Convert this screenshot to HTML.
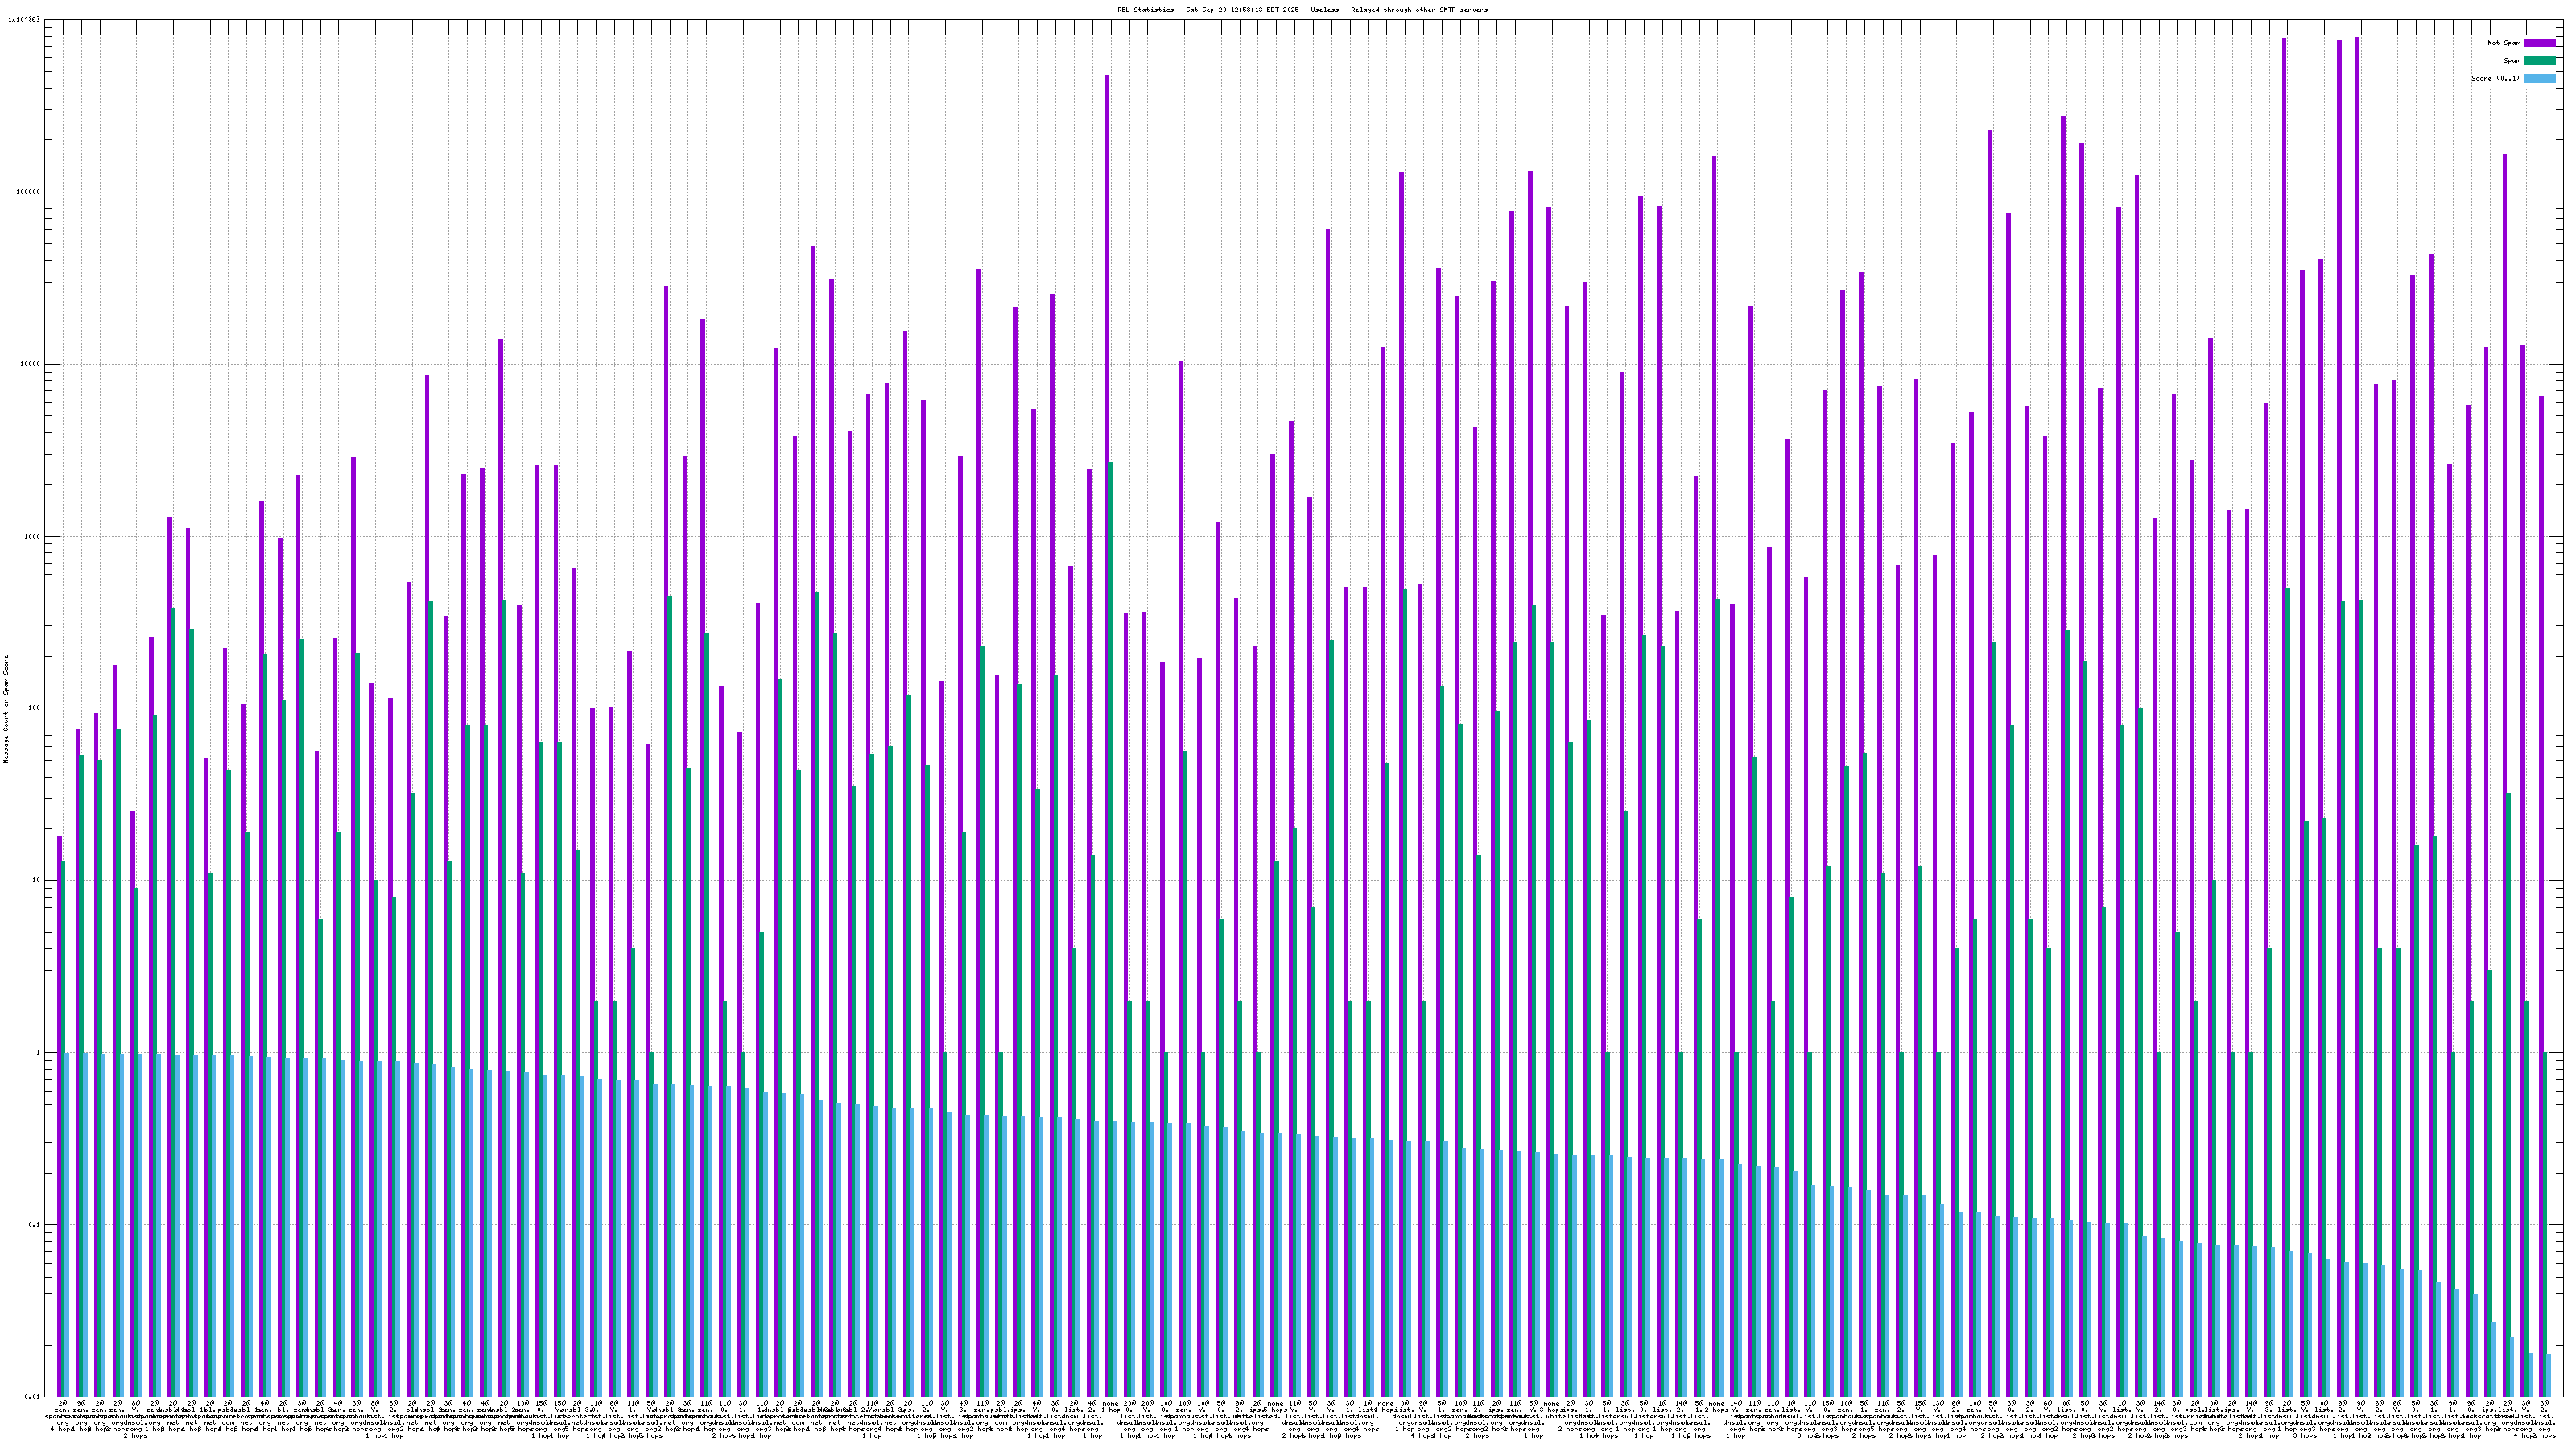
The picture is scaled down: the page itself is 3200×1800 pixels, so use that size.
<!DOCTYPE html>
<html lang="en"><head><meta charset="utf-8"><title>RBL Statistics</title>
<style>html,body{margin:0;padding:0;overflow:hidden;background:#fff;font-family:"Liberation Sans",sans-serif}svg{display:block}</style></head>
<body><svg width="3200" height="1800" viewBox="0 0 3200 1800" shape-rendering="crispEdges" role="img">
<title>RBL Statistics - Sat Sep 20 12:58:13 EDT 2025 - Useless - Relayed through other SMTP servers</title>
<desc>Clustered log-scale histogram. Y axis: Message Count or Spam Score (0.01 to 1x10^{6}). Series: Not Spam, Spam, Score (0..1). 136 RBL / hop-count groups on the X axis.</desc>
<defs><g id="gl" fill="#000"><path id="c40" d="M2 1h1v1h-1zM1 2h1v1h-1zM1 3h1v1h-1zM1 4h1v1h-1zM2 5h1v1h-1z"/><path id="c41" d="M1 1h1v1h-1zM2 2h1v1h-1zM2 3h1v1h-1zM2 4h1v1h-1zM1 5h1v1h-1z"/><path id="c45" d="M0 4h4v1h-4z"/><path id="c46" d="M1 5h2v1h-2zM1 6h2v1h-2z"/><path id="c48" d="M2 1h1v1h-1zM1 2h1v1h-1zM3 2h1v1h-1zM1 3h1v1h-1zM3 3h1v1h-1zM1 4h1v1h-1zM3 4h1v1h-1zM1 5h1v1h-1zM3 5h1v1h-1zM2 6h1v1h-1z"/><path id="c49" d="M2 1h1v1h-1zM1 2h2v1h-2zM2 3h1v1h-1zM2 4h1v1h-1zM2 5h1v1h-1zM1 6h3v1h-3z"/><path id="c50" d="M1 1h2v1h-2zM0 2h1v1h-1zM3 2h1v1h-1zM3 3h1v1h-1zM2 4h1v1h-1zM1 5h1v1h-1zM0 6h4v1h-4z"/><path id="c51" d="M1 1h2v1h-2zM0 2h1v1h-1zM3 2h1v1h-1zM2 3h1v1h-1zM3 4h1v1h-1zM0 5h1v1h-1zM3 5h1v1h-1zM1 6h2v1h-2z"/><path id="c52" d="M2 1h1v1h-1zM1 2h2v1h-2zM0 3h1v1h-1zM2 3h1v1h-1zM0 4h4v1h-4zM2 5h1v1h-1zM2 6h1v1h-1z"/><path id="c53" d="M0 1h4v1h-4zM0 2h1v1h-1zM0 3h3v1h-3zM3 4h1v1h-1zM0 5h1v1h-1zM3 5h1v1h-1zM1 6h2v1h-2z"/><path id="c54" d="M1 1h2v1h-2zM0 2h1v1h-1zM0 3h1v1h-1zM2 3h1v1h-1zM0 4h2v1h-2zM3 4h1v1h-1zM0 5h1v1h-1zM3 5h1v1h-1zM1 6h2v1h-2z"/><path id="c56" d="M1 1h2v1h-2zM0 2h1v1h-1zM3 2h1v1h-1zM1 3h2v1h-2zM0 4h1v1h-1zM3 4h1v1h-1zM0 5h1v1h-1zM3 5h1v1h-1zM1 6h2v1h-2z"/><path id="c57" d="M1 1h2v1h-2zM0 2h1v1h-1zM3 2h1v1h-1zM0 3h1v1h-1zM2 3h2v1h-2zM1 4h1v1h-1zM3 4h1v1h-1zM3 5h1v1h-1zM1 6h2v1h-2z"/><path id="c58" d="M1 2h2v1h-2zM1 3h2v1h-2zM1 5h2v1h-2zM1 6h2v1h-2z"/><path id="c64" d="M2 0h2v1h-2zM1 1h1v1h-1zM4 1h1v1h-1zM0 2h1v1h-1zM3 2h2v1h-2zM0 3h1v1h-1zM2 3h1v1h-1zM4 3h1v1h-1zM0 4h1v1h-1zM2 4h1v1h-1zM4 4h1v1h-1zM0 5h1v1h-1zM3 5h1v1h-1zM1 6h1v1h-1zM2 7h2v1h-2z"/><path id="c66" d="M0 1h3v1h-3zM0 2h1v1h-1zM3 2h1v1h-1zM0 3h3v1h-3zM0 4h1v1h-1zM3 4h1v1h-1zM0 5h1v1h-1zM3 5h1v1h-1zM0 6h3v1h-3z"/><path id="c67" d="M1 1h2v1h-2zM0 2h1v1h-1zM3 2h1v1h-1zM0 3h1v1h-1zM0 4h1v1h-1zM0 5h1v1h-1zM3 5h1v1h-1zM1 6h2v1h-2z"/><path id="c68" d="M0 1h3v1h-3zM0 2h1v1h-1zM3 2h1v1h-1zM0 3h1v1h-1zM3 3h1v1h-1zM0 4h1v1h-1zM3 4h1v1h-1zM0 5h1v1h-1zM3 5h1v1h-1zM0 6h3v1h-3z"/><path id="c69" d="M0 1h4v1h-4zM0 2h1v1h-1zM0 3h3v1h-3zM0 4h1v1h-1zM0 5h1v1h-1zM0 6h4v1h-4z"/><path id="c76" d="M0 1h1v1h-1zM0 2h1v1h-1zM0 3h1v1h-1zM0 4h1v1h-1zM0 5h1v1h-1zM0 6h4v1h-4z"/><path id="c77" d="M0 1h1v1h-1zM3 1h1v1h-1zM0 2h4v1h-4zM0 3h4v1h-4zM0 4h1v1h-1zM3 4h1v1h-1zM0 5h1v1h-1zM3 5h1v1h-1zM0 6h1v1h-1zM3 6h1v1h-1z"/><path id="c78" d="M0 1h1v1h-1zM3 1h1v1h-1zM0 2h2v1h-2zM3 2h1v1h-1zM0 3h4v1h-4zM0 4h1v1h-1zM2 4h2v1h-2zM0 5h1v1h-1zM2 5h2v1h-2zM0 6h1v1h-1zM3 6h1v1h-1z"/><path id="c80" d="M0 1h3v1h-3zM0 2h1v1h-1zM3 2h1v1h-1zM0 3h1v1h-1zM3 3h1v1h-1zM0 4h3v1h-3zM0 5h1v1h-1zM0 6h1v1h-1z"/><path id="c82" d="M0 1h3v1h-3zM0 2h1v1h-1zM3 2h1v1h-1zM0 3h1v1h-1zM3 3h1v1h-1zM0 4h3v1h-3zM0 5h1v1h-1zM2 5h1v1h-1zM0 6h1v1h-1zM3 6h1v1h-1z"/><path id="c83" d="M1 1h3v1h-3zM0 2h1v1h-1zM0 3h1v1h-1zM1 4h2v1h-2zM3 5h1v1h-1zM0 6h3v1h-3z"/><path id="c84" d="M0 1h5v1h-5zM2 2h1v1h-1zM2 3h1v1h-1zM2 4h1v1h-1zM2 5h1v1h-1zM2 6h1v1h-1z"/><path id="c85" d="M0 1h1v1h-1zM3 1h1v1h-1zM0 2h1v1h-1zM3 2h1v1h-1zM0 3h1v1h-1zM3 3h1v1h-1zM0 4h1v1h-1zM3 4h1v1h-1zM0 5h1v1h-1zM3 5h1v1h-1zM1 6h2v1h-2z"/><path id="c89" d="M0 1h1v1h-1zM4 1h1v1h-1zM0 2h1v1h-1zM4 2h1v1h-1zM1 3h1v1h-1zM3 3h1v1h-1zM2 4h1v1h-1zM2 5h1v1h-1zM2 6h1v1h-1z"/><path id="c94" d="M2 1h1v1h-1zM1 2h1v1h-1zM3 2h1v1h-1z"/><path id="c97" d="M1 3h3v1h-3zM0 4h1v1h-1zM3 4h1v1h-1zM0 5h1v1h-1zM2 5h2v1h-2zM1 6h1v1h-1zM3 6h1v1h-1z"/><path id="c98" d="M0 1h1v1h-1zM0 2h1v1h-1zM0 3h3v1h-3zM0 4h1v1h-1zM3 4h1v1h-1zM0 5h1v1h-1zM3 5h1v1h-1zM0 6h3v1h-3z"/><path id="c99" d="M1 3h3v1h-3zM0 4h1v1h-1zM0 5h1v1h-1zM1 6h3v1h-3z"/><path id="c100" d="M3 1h1v1h-1zM3 2h1v1h-1zM1 3h3v1h-3zM0 4h1v1h-1zM3 4h1v1h-1zM0 5h1v1h-1zM2 5h2v1h-2zM1 6h1v1h-1zM3 6h1v1h-1z"/><path id="c101" d="M1 3h2v1h-2zM0 4h1v1h-1zM2 4h2v1h-2zM0 5h2v1h-2zM1 6h3v1h-3z"/><path id="c103" d="M1 3h3v1h-3zM0 4h1v1h-1zM3 4h1v1h-1zM1 5h3v1h-3zM3 6h1v1h-1zM1 7h2v1h-2z"/><path id="c104" d="M0 1h1v1h-1zM0 2h1v1h-1zM0 3h3v1h-3zM0 4h1v1h-1zM3 4h1v1h-1zM0 5h1v1h-1zM3 5h1v1h-1zM0 6h1v1h-1zM3 6h1v1h-1z"/><path id="c105" d="M2 1h1v1h-1zM1 3h2v1h-2zM2 4h1v1h-1zM2 5h1v1h-1zM1 6h3v1h-3z"/><path id="c107" d="M0 1h1v1h-1zM0 2h1v1h-1zM0 3h1v1h-1zM3 3h1v1h-1zM0 4h3v1h-3zM0 5h1v1h-1zM3 5h1v1h-1zM0 6h1v1h-1zM3 6h1v1h-1z"/><path id="c108" d="M1 1h2v1h-2zM2 2h1v1h-1zM2 3h1v1h-1zM2 4h1v1h-1zM2 5h1v1h-1zM1 6h3v1h-3z"/><path id="c109" d="M0 3h2v1h-2zM3 3h1v1h-1zM0 4h1v1h-1zM2 4h1v1h-1zM4 4h1v1h-1zM0 5h1v1h-1zM2 5h1v1h-1zM4 5h1v1h-1zM0 6h1v1h-1zM4 6h1v1h-1z"/><path id="c110" d="M0 3h1v1h-1zM2 3h1v1h-1zM0 4h2v1h-2zM3 4h1v1h-1zM0 5h1v1h-1zM3 5h1v1h-1zM0 6h1v1h-1zM3 6h1v1h-1z"/><path id="c111" d="M1 3h2v1h-2zM0 4h1v1h-1zM3 4h1v1h-1zM0 5h1v1h-1zM3 5h1v1h-1zM1 6h2v1h-2z"/><path id="c112" d="M0 3h3v1h-3zM0 4h1v1h-1zM3 4h1v1h-1zM0 5h3v1h-3zM0 6h1v1h-1zM0 7h1v1h-1z"/><path id="c114" d="M0 3h1v1h-1zM2 3h1v1h-1zM0 4h2v1h-2zM3 4h1v1h-1zM0 5h1v1h-1zM0 6h1v1h-1z"/><path id="c115" d="M1 3h3v1h-3zM0 4h2v1h-2zM2 5h2v1h-2zM0 6h3v1h-3z"/><path id="c116" d="M1 1h1v1h-1zM1 2h1v1h-1zM0 3h3v1h-3zM1 4h1v1h-1zM1 5h1v1h-1zM3 5h1v1h-1zM2 6h1v1h-1z"/><path id="c117" d="M0 3h1v1h-1zM3 3h1v1h-1zM0 4h1v1h-1zM3 4h1v1h-1zM0 5h1v1h-1zM2 5h2v1h-2zM1 6h1v1h-1zM3 6h1v1h-1z"/><path id="c118" d="M1 3h1v1h-1zM3 3h1v1h-1zM1 4h1v1h-1zM3 4h1v1h-1zM1 5h1v1h-1zM3 5h1v1h-1zM2 6h1v1h-1z"/><path id="c119" d="M0 3h1v1h-1zM4 3h1v1h-1zM0 4h1v1h-1zM2 4h1v1h-1zM4 4h1v1h-1zM0 5h1v1h-1zM2 5h1v1h-1zM4 5h1v1h-1zM1 6h3v1h-3z"/><path id="c120" d="M0 3h1v1h-1zM3 3h1v1h-1zM1 4h2v1h-2zM1 5h2v1h-2zM0 6h1v1h-1zM3 6h1v1h-1z"/><path id="c121" d="M0 3h1v1h-1zM3 3h1v1h-1zM0 4h1v1h-1zM3 4h1v1h-1zM1 5h3v1h-3zM3 6h1v1h-1zM1 7h2v1h-2z"/><path id="c122" d="M0 3h4v1h-4zM2 4h1v1h-1zM1 5h1v1h-1zM0 6h4v1h-4z"/><path id="c123" d="M2 0h2v1h-2zM1 1h1v1h-1zM2 2h1v1h-1zM0 3h2v1h-2zM2 4h1v1h-1zM1 5h1v1h-1zM2 6h2v1h-2z"/><path id="c125" d="M1 0h2v1h-2zM3 1h1v1h-1zM2 2h1v1h-1zM3 3h2v1h-2zM2 4h1v1h-1zM3 5h1v1h-1zM1 6h2v1h-2z"/></g></defs>
<path d="M78.5 26V1735M101.5 26V1735M124.5 26V1735M146.5 26V1735M169.5 26V1735M192.5 26V1735M215.5 26V1735M238.5 26V1735M261.5 26V1735M283.5 26V1735M306.5 26V1735M329.5 26V1735M352.5 26V1735M375.5 26V1735M398.5 26V1735M420.5 26V1735M443.5 26V1735M466.5 26V1735M489.5 26V1735M512.5 26V1735M535.5 26V1735M557.5 26V1735M580.5 26V1735M603.5 26V1735M626.5 26V1735M649.5 26V1735M672.5 26V1735M695.5 26V1735M717.5 26V1735M740.5 26V1735M763.5 26V1735M786.5 26V1735M809.5 26V1735M832.5 26V1735M854.5 26V1735M877.5 26V1735M900.5 26V1735M923.5 26V1735M946.5 26V1735M969.5 26V1735M991.5 26V1735M1014.5 26V1735M1037.5 26V1735M1060.5 26V1735M1083.5 26V1735M1106.5 26V1735M1128.5 26V1735M1151.5 26V1735M1174.5 26V1735M1197.5 26V1735M1220.5 26V1735M1243.5 26V1735M1265.5 26V1735M1288.5 26V1735M1311.5 26V1735M1334.5 26V1735M1357.5 26V1735M1380.5 26V1735M1403.5 26V1735M1425.5 26V1735M1448.5 26V1735M1471.5 26V1735M1494.5 26V1735M1517.5 26V1735M1540.5 26V1735M1562.5 26V1735M1585.5 26V1735M1608.5 26V1735M1631.5 26V1735M1654.5 26V1735M1677.5 26V1735M1699.5 26V1735M1722.5 26V1735M1745.5 26V1735M1768.5 26V1735M1791.5 26V1735M1814.5 26V1735M1836.5 26V1735M1859.5 26V1735M1882.5 26V1735M1905.5 26V1735M1928.5 26V1735M1951.5 26V1735M1974.5 26V1735M1996.5 26V1735M2019.5 26V1735M2042.5 26V1735M2065.5 26V1735M2088.5 26V1735M2111.5 26V1735M2133.5 26V1735M2156.5 26V1735M2179.5 26V1735M2202.5 26V1735M2225.5 26V1735M2248.5 26V1735M2270.5 26V1735M2293.5 26V1735M2316.5 26V1735M2339.5 26V1735M2362.5 26V1735M2385.5 26V1735M2407.5 26V1735M2430.5 26V1735M2453.5 26V1735M2476.5 26V1735M2499.5 26V1735M2522.5 26V1735M2544.5 26V1735M2567.5 26V1735M2590.5 26V1735M2613.5 26V1735M2636.5 26V1735M2659.5 26V1735M2682.5 26V1735M2704.5 26V1735M2727.5 26V1735M2750.5 26V1735M2773.5 26V1735M2796.5 26V1735M2819.5 26V1735M2841.5 26V1735M2864.5 26V1735M2887.5 26V1735M2910.5 26V1735M2933.5 26V1735M2956.5 26V1735M2978.5 26V1735M3001.5 26V1735M3024.5 26V1735M3047.5 26V1735M3070.5 26V1735M3093.5 26V1735M3115.5 26V1735M3138.5 26V1735M3161.5 26V1735" stroke="#a0a0a0" stroke-width="1" stroke-dasharray="2 2" fill="none"/>
<path d="M56 238.5H3184M56 452.5H3184M56 666.5H3184M56 879.5H3184M56 1093.5H3184M56 1307.5H3184M56 1521.5H3184" stroke="#a0a0a0" stroke-width="1" stroke-dasharray="2 2" stroke-dashoffset="1" fill="none"/>
<rect x="3071" y="43" width="113" height="67" fill="#fff"/>
<path d="M78.5 25V43M78.5 1717V1735M101.5 25V43M101.5 1717V1735M124.5 25V43M124.5 1717V1735M146.5 25V43M146.5 1717V1735M169.5 25V43M169.5 1717V1735M192.5 25V43M192.5 1717V1735M215.5 25V43M215.5 1717V1735M238.5 25V43M238.5 1717V1735M261.5 25V43M261.5 1717V1735M283.5 25V43M283.5 1717V1735M306.5 25V43M306.5 1717V1735M329.5 25V43M329.5 1717V1735M352.5 25V43M352.5 1717V1735M375.5 25V43M375.5 1717V1735M398.5 25V43M398.5 1717V1735M420.5 25V43M420.5 1717V1735M443.5 25V43M443.5 1717V1735M466.5 25V43M466.5 1717V1735M489.5 25V43M489.5 1717V1735M512.5 25V43M512.5 1717V1735M535.5 25V43M535.5 1717V1735M557.5 25V43M557.5 1717V1735M580.5 25V43M580.5 1717V1735M603.5 25V43M603.5 1717V1735M626.5 25V43M626.5 1717V1735M649.5 25V43M649.5 1717V1735M672.5 25V43M672.5 1717V1735M695.5 25V43M695.5 1717V1735M717.5 25V43M717.5 1717V1735M740.5 25V43M740.5 1717V1735M763.5 25V43M763.5 1717V1735M786.5 25V43M786.5 1717V1735M809.5 25V43M809.5 1717V1735M832.5 25V43M832.5 1717V1735M854.5 25V43M854.5 1717V1735M877.5 25V43M877.5 1717V1735M900.5 25V43M900.5 1717V1735M923.5 25V43M923.5 1717V1735M946.5 25V43M946.5 1717V1735M969.5 25V43M969.5 1717V1735M991.5 25V43M991.5 1717V1735M1014.5 25V43M1014.5 1717V1735M1037.5 25V43M1037.5 1717V1735M1060.5 25V43M1060.5 1717V1735M1083.5 25V43M1083.5 1717V1735M1106.5 25V43M1106.5 1717V1735M1128.5 25V43M1128.5 1717V1735M1151.5 25V43M1151.5 1717V1735M1174.5 25V43M1174.5 1717V1735M1197.5 25V43M1197.5 1717V1735M1220.5 25V43M1220.5 1717V1735M1243.5 25V43M1243.5 1717V1735M1265.5 25V43M1265.5 1717V1735M1288.5 25V43M1288.5 1717V1735M1311.5 25V43M1311.5 1717V1735M1334.5 25V43M1334.5 1717V1735M1357.5 25V43M1357.5 1717V1735M1380.5 25V43M1380.5 1717V1735M1403.5 25V43M1403.5 1717V1735M1425.5 25V43M1425.5 1717V1735M1448.5 25V43M1448.5 1717V1735M1471.5 25V43M1471.5 1717V1735M1494.5 25V43M1494.5 1717V1735M1517.5 25V43M1517.5 1717V1735M1540.5 25V43M1540.5 1717V1735M1562.5 25V43M1562.5 1717V1735M1585.5 25V43M1585.5 1717V1735M1608.5 25V43M1608.5 1717V1735M1631.5 25V43M1631.5 1717V1735M1654.5 25V43M1654.5 1717V1735M1677.5 25V43M1677.5 1717V1735M1699.5 25V43M1699.5 1717V1735M1722.5 25V43M1722.5 1717V1735M1745.5 25V43M1745.5 1717V1735M1768.5 25V43M1768.5 1717V1735M1791.5 25V43M1791.5 1717V1735M1814.5 25V43M1814.5 1717V1735M1836.5 25V43M1836.5 1717V1735M1859.5 25V43M1859.5 1717V1735M1882.5 25V43M1882.5 1717V1735M1905.5 25V43M1905.5 1717V1735M1928.5 25V43M1928.5 1717V1735M1951.5 25V43M1951.5 1717V1735M1974.5 25V43M1974.5 1717V1735M1996.5 25V43M1996.5 1717V1735M2019.5 25V43M2019.5 1717V1735M2042.5 25V43M2042.5 1717V1735M2065.5 25V43M2065.5 1717V1735M2088.5 25V43M2088.5 1717V1735M2111.5 25V43M2111.5 1717V1735M2133.5 25V43M2133.5 1717V1735M2156.5 25V43M2156.5 1717V1735M2179.5 25V43M2179.5 1717V1735M2202.5 25V43M2202.5 1717V1735M2225.5 25V43M2225.5 1717V1735M2248.5 25V43M2248.5 1717V1735M2270.5 25V43M2270.5 1717V1735M2293.5 25V43M2293.5 1717V1735M2316.5 25V43M2316.5 1717V1735M2339.5 25V43M2339.5 1717V1735M2362.5 25V43M2362.5 1717V1735M2385.5 25V43M2385.5 1717V1735M2407.5 25V43M2407.5 1717V1735M2430.5 25V43M2430.5 1717V1735M2453.5 25V43M2453.5 1717V1735M2476.5 25V43M2476.5 1717V1735M2499.5 25V43M2499.5 1717V1735M2522.5 25V43M2522.5 1717V1735M2544.5 25V43M2544.5 1717V1735M2567.5 25V43M2567.5 1717V1735M2590.5 25V43M2590.5 1717V1735M2613.5 25V43M2613.5 1717V1735M2636.5 25V43M2636.5 1717V1735M2659.5 25V43M2659.5 1717V1735M2682.5 25V43M2682.5 1717V1735M2704.5 25V43M2704.5 1717V1735M2727.5 25V43M2727.5 1717V1735M2750.5 25V43M2750.5 1717V1735M2773.5 25V43M2773.5 1717V1735M2796.5 25V43M2796.5 1717V1735M2819.5 25V43M2819.5 1717V1735M2841.5 25V43M2841.5 1717V1735M2864.5 25V43M2864.5 1717V1735M2887.5 25V43M2887.5 1717V1735M2910.5 25V43M2910.5 1717V1735M2933.5 25V43M2933.5 1717V1735M2956.5 25V43M2956.5 1717V1735M2978.5 25V43M2978.5 1717V1735M3001.5 25V43M3001.5 1717V1735M3024.5 25V43M3024.5 1717V1735M3047.5 25V43M3047.5 1717V1735M3070.5 25V43M3070.5 1717V1735M3093.5 25V43M3093.5 1717V1735M3115.5 25V43M3115.5 1717V1735M3138.5 25V43M3138.5 1717V1735M3161.5 25V43M3161.5 1717V1735M56 1671.5h9M3184 1671.5h-9M56 1633.5h9M3184 1633.5h-9M56 1606.5h9M3184 1606.5h-9M56 1586.5h9M3184 1586.5h-9M56 1569.5h9M3184 1569.5h-9M56 1554.5h9M3184 1554.5h-9M56 1542.5h9M3184 1542.5h-9M56 1531.5h9M3184 1531.5h-9M56 1521.5h18M3184 1521.5h-18M56 1457.5h9M3184 1457.5h-9M56 1419.5h9M3184 1419.5h-9M56 1392.5h9M3184 1392.5h-9M56 1372.5h9M3184 1372.5h-9M56 1355.5h9M3184 1355.5h-9M56 1340.5h9M3184 1340.5h-9M56 1328.5h9M3184 1328.5h-9M56 1317.5h9M3184 1317.5h-9M56 1307.5h18M3184 1307.5h-18M56 1243.5h9M3184 1243.5h-9M56 1205.5h9M3184 1205.5h-9M56 1178.5h9M3184 1178.5h-9M56 1158.5h9M3184 1158.5h-9M56 1141.5h9M3184 1141.5h-9M56 1127.5h9M3184 1127.5h-9M56 1114.5h9M3184 1114.5h-9M56 1103.5h9M3184 1103.5h-9M56 1093.5h18M3184 1093.5h-18M56 1029.5h9M3184 1029.5h-9M56 991.5h9M3184 991.5h-9M56 965.5h9M3184 965.5h-9M56 944.5h9M3184 944.5h-9M56 927.5h9M3184 927.5h-9M56 913.5h9M3184 913.5h-9M56 900.5h9M3184 900.5h-9M56 889.5h9M3184 889.5h-9M56 879.5h18M3184 879.5h-18M56 815.5h9M3184 815.5h-9M56 777.5h9M3184 777.5h-9M56 751.5h9M3184 751.5h-9M56 730.5h9M3184 730.5h-9M56 713.5h9M3184 713.5h-9M56 699.5h9M3184 699.5h-9M56 686.5h9M3184 686.5h-9M56 675.5h9M3184 675.5h-9M56 666.5h18M3184 666.5h-18M56 601.5h9M3184 601.5h-9M56 564.5h9M3184 564.5h-9M56 537.5h9M3184 537.5h-9M56 516.5h9M3184 516.5h-9M56 499.5h9M3184 499.5h-9M56 485.5h9M3184 485.5h-9M56 472.5h9M3184 472.5h-9M56 462.5h9M3184 462.5h-9M56 452.5h18M3184 452.5h-18M56 387.5h9M3184 387.5h-9M56 350.5h9M3184 350.5h-9M56 323.5h9M3184 323.5h-9M56 302.5h9M3184 302.5h-9M56 285.5h9M3184 285.5h-9M56 271.5h9M3184 271.5h-9M56 259.5h9M3184 259.5h-9M56 248.5h9M3184 248.5h-9M56 238.5h18M3184 238.5h-18M56 173.5h9M3184 173.5h-9M56 136.5h9M3184 136.5h-9M56 109.5h9M3184 109.5h-9M56 88.5h9M3184 88.5h-9M56 71.5h9M3184 71.5h-9M56 57.5h9M3184 57.5h-9M56 45.5h9M3184 45.5h-9M56 34.5h9M3184 34.5h-9" stroke="#000" stroke-width="1" fill="none"/>
<path d="M71 1039H77V1735H71zM94 906H99V1735H94zM117 886H122V1735H117zM140 826H145V1735H140zM162 1008H168V1735H162zM185 791H191V1735H185zM208 642H214V1735H208zM231 656H236V1735H231zM254 942H259V1735H254zM277 805H282V1735H277zM299 875H305V1735H299zM322 622H328V1735H322zM345 668H351V1735H345zM368 590H373V1735H368zM391 933H396V1735H391zM414 792H419V1735H414zM436 568H442V1735H436zM459 848H465V1735H459zM482 867H488V1735H482zM505 723H511V1735H505zM528 466H533V1735H528zM551 765H556V1735H551zM573 589H579V1735H573zM596 581H602V1735H596zM619 421H625V1735H619zM642 751H648V1735H642zM665 578H670V1735H665zM688 578H693V1735H688zM710 705H716V1735H710zM733 879H739V1735H733zM756 878H762V1735H756zM779 809H785V1735H779zM802 924H807V1735H802zM825 355H830V1735H825zM848 566H853V1735H848zM870 396H876V1735H870zM893 852H899V1735H893zM916 909H922V1735H916zM939 749H944V1735H939zM962 432H967V1735H962zM985 541H990V1735H985zM1007 306H1013V1735H1007zM1030 347H1036V1735H1030zM1053 535H1059V1735H1053zM1076 490H1081V1735H1076zM1099 476H1104V1735H1099zM1122 411H1127V1735H1122zM1144 497H1150V1735H1144zM1167 846H1173V1735H1167zM1190 566H1196V1735H1190zM1213 334H1219V1735H1213zM1236 838H1241V1735H1236zM1259 381H1264V1735H1259zM1281 508H1287V1735H1281zM1304 365H1310V1735H1304zM1327 703H1333V1735H1327zM1350 583H1356V1735H1350zM1373 93H1378V1735H1373zM1396 761H1401V1735H1396zM1419 760H1424V1735H1419zM1441 822H1447V1735H1441zM1464 448H1470V1735H1464zM1487 817H1493V1735H1487zM1510 648H1515V1735H1510zM1533 743H1538V1735H1533zM1556 803H1561V1735H1556zM1578 564H1584V1735H1578zM1601 523H1607V1735H1601zM1624 617H1630V1735H1624zM1647 284H1652V1735H1647zM1670 729H1675V1735H1670zM1693 729H1698V1735H1693zM1715 431H1721V1735H1715zM1738 214H1744V1735H1738zM1761 725H1767V1735H1761zM1784 333H1790V1735H1784zM1807 368H1812V1735H1807zM1830 530H1835V1735H1830zM1852 349H1858V1735H1852zM1875 262H1881V1735H1875zM1898 213H1904V1735H1898zM1921 257H1927V1735H1921zM1944 380H1949V1735H1944zM1967 350H1972V1735H1967zM1989 764H1995V1735H1989zM2012 462H2018V1735H2012zM2035 243H2041V1735H2035zM2058 256H2064V1735H2058zM2081 759H2086V1735H2081zM2104 591H2109V1735H2104zM2127 194H2132V1735H2127zM2149 750H2155V1735H2149zM2172 380H2178V1735H2172zM2195 680H2201V1735H2195zM2218 545H2223V1735H2218zM2241 717H2246V1735H2241zM2264 485H2269V1735H2264zM2286 360H2292V1735H2286zM2309 338H2315V1735H2309zM2332 480H2338V1735H2332zM2355 702H2360V1735H2355zM2378 471H2383V1735H2378zM2401 690H2406V1735H2401zM2423 550H2429V1735H2423zM2446 512H2452V1735H2446zM2469 162H2475V1735H2469zM2492 265H2498V1735H2492zM2515 504H2520V1735H2515zM2538 541H2543V1735H2538zM2560 144H2566V1735H2560zM2583 178H2589V1735H2583zM2606 482H2612V1735H2606zM2629 257H2635V1735H2629zM2652 218H2657V1735H2652zM2675 643H2680V1735H2675zM2698 490H2703V1735H2698zM2720 571H2726V1735H2720zM2743 420H2749V1735H2743zM2766 633H2772V1735H2766zM2789 632H2794V1735H2789zM2812 501H2817V1735H2812zM2835 47H2840V1735H2835zM2857 336H2863V1735H2857zM2880 322H2886V1735H2880zM2903 50H2909V1735H2903zM2926 46H2931V1735H2926zM2949 477H2954V1735H2949zM2972 472H2977V1735H2972zM2994 342H3000V1735H2994zM3017 315H3023V1735H3017zM3040 576H3046V1735H3040zM3063 503H3069V1735H3063zM3086 431H3091V1735H3086zM3109 191H3114V1735H3109zM3131 428H3137V1735H3131zM3154 492H3160V1735H3154z" fill="#9400d3"/>
<path d="M76 1069H81V1735H76zM98 938H104V1735H98zM121 944H127V1735H121zM144 905H150V1735H144zM167 1103H172V1735H167zM190 888H195V1735H190zM213 755H218V1735H213zM235 781H241V1735H235zM258 1085H264V1735H258zM281 956H287V1735H281zM304 1034H310V1735H304zM327 813H332V1735H327zM350 869H355V1735H350zM372 794H378V1735H372zM395 1141H401V1735H395zM418 1034H424V1735H418zM441 811H447V1735H441zM464 1093H469V1735H464zM487 1114H492V1735H487zM510 985H515V1735H510zM532 747H538V1735H532zM555 1069H561V1735H555zM578 901H584V1735H578zM601 901H606V1735H601zM624 745H629V1735H624zM647 1085H652V1735H647zM669 922H675V1735H669zM692 922H698V1735H692zM715 1056H721V1735H715zM738 1243H743V1735H738zM761 1243H766V1735H761zM784 1178H789V1735H784zM806 1307H812V1735H806zM829 740H835V1735H829zM852 954H858V1735H852zM875 786H881V1735H875zM898 1243H903V1735H898zM921 1307H926V1735H921zM943 1158H949V1735H943zM966 844H972V1735H966zM989 956H995V1735H989zM1012 736H1018V1735H1012zM1035 786H1040V1735H1035zM1058 977H1063V1735H1058zM1080 937H1086V1735H1080zM1103 927H1109V1735H1103zM1126 863H1132V1735H1126zM1149 950H1155V1735H1149zM1172 1307H1177V1735H1172zM1195 1034H1200V1735H1195zM1218 802H1223V1735H1218zM1240 1307H1246V1735H1240zM1263 850H1269V1735H1263zM1286 980H1292V1735H1286zM1309 838H1314V1735H1309zM1332 1178H1337V1735H1332zM1355 1062H1360V1735H1355zM1377 574H1383V1735H1377zM1400 1243H1406V1735H1400zM1423 1243H1429V1735H1423zM1446 1307H1451V1735H1446zM1469 933H1474V1735H1469zM1492 1307H1497V1735H1492zM1514 1141H1520V1735H1514zM1537 1243H1543V1735H1537zM1560 1307H1566V1735H1560zM1583 1069H1589V1735H1583zM1606 1029H1611V1735H1606zM1629 1127H1634V1735H1629zM1651 795H1657V1735H1651zM1674 1243H1680V1735H1674zM1697 1243H1703V1735H1697zM1720 948H1726V1735H1720zM1743 732H1748V1735H1743zM1766 1243H1771V1735H1766zM1789 852H1794V1735H1789zM1811 899H1817V1735H1811zM1834 1062H1840V1735H1834zM1857 883H1863V1735H1857zM1880 798H1885V1735H1880zM1903 751H1908V1735H1903zM1926 797H1931V1735H1926zM1948 922H1954V1735H1948zM1971 894H1977V1735H1971zM1994 1307H2000V1735H1994zM2017 1008H2022V1735H2017zM2040 789H2045V1735H2040zM2063 803H2068V1735H2063zM2085 1307H2091V1735H2085zM2108 1141H2114V1735H2108zM2131 744H2137V1735H2131zM2154 1307H2160V1735H2154zM2177 940H2182V1735H2177zM2200 1243H2205V1735H2200zM2222 1114H2228V1735H2222zM2245 1307H2251V1735H2245zM2268 1076H2274V1735H2268zM2291 952H2297V1735H2291zM2314 935H2319V1735H2314zM2337 1085H2342V1735H2337zM2359 1307H2365V1735H2359zM2382 1076H2388V1735H2382zM2405 1307H2411V1735H2405zM2428 1178H2434V1735H2428zM2451 1141H2456V1735H2451zM2474 797H2479V1735H2474zM2497 901H2502V1735H2497zM2519 1141H2525V1735H2519zM2542 1178H2548V1735H2542zM2565 783H2571V1735H2565zM2588 821H2593V1735H2588zM2611 1127H2616V1735H2611zM2634 901H2639V1735H2634zM2656 880H2662V1735H2656zM2679 1307H2685V1735H2679zM2702 1158H2708V1735H2702zM2725 1243H2730V1735H2725zM2748 1093H2753V1735H2748zM2771 1307H2776V1735H2771zM2793 1307H2799V1735H2793zM2816 1178H2822V1735H2816zM2839 730H2845V1735H2839zM2862 1020H2868V1735H2862zM2885 1016H2890V1735H2885zM2908 746H2913V1735H2908zM2930 745H2936V1735H2930zM2953 1178H2959V1735H2953zM2976 1178H2982V1735H2976zM2999 1050H3005V1735H2999zM3022 1039H3027V1735H3022zM3045 1307H3050V1735H3045zM3068 1243H3073V1735H3068zM3090 1205H3096V1735H3090zM3113 985H3119V1735H3113zM3136 1243H3142V1735H3136zM3159 1307H3164V1735H3159z" fill="#009e73"/>
<path d="M80 1308H86V1735H80zM103 1308H109V1735H103zM126 1309H131V1735H126zM149 1309H154V1735H149zM171 1309H177V1735H171zM194 1309H200V1735H194zM217 1310H223V1735H217zM240 1310H246V1735H240zM263 1311H268V1735H263zM286 1311H291V1735H286zM309 1312H314V1735H309zM331 1313H337V1735H331zM354 1314H360V1735H354zM377 1314H383V1735H377zM400 1314H405V1735H400zM423 1317H428V1735H423zM446 1318H451V1735H446zM468 1318H474V1735H468zM491 1318H497V1735H491zM514 1320H520V1735H514zM537 1322H542V1735H537zM560 1326H565V1735H560zM583 1328H588V1735H583zM605 1329H611V1735H605zM628 1330H634V1735H628zM651 1332H657V1735H651zM674 1335H680V1735H674zM697 1335H702V1735H697zM720 1337H725V1735H720zM742 1340H748V1735H742zM765 1341H771V1735H765zM788 1342H794V1735H788zM811 1347H817V1735H811zM834 1347H839V1735H834zM857 1348H862V1735H857zM880 1349H885V1735H880zM902 1349H908V1735H902zM925 1352H931V1735H925zM948 1357H954V1735H948zM971 1358H976V1735H971zM994 1359H999V1735H994zM1017 1366H1022V1735H1017zM1039 1370H1045V1735H1039zM1062 1372H1068V1735H1062zM1085 1374H1091V1735H1085zM1108 1376H1113V1735H1108zM1131 1376H1136V1735H1131zM1154 1377H1159V1735H1154zM1176 1381H1182V1735H1176zM1199 1385H1205V1735H1199zM1222 1385H1228V1735H1222zM1245 1386H1251V1735H1245zM1268 1386H1273V1735H1268zM1291 1387H1296V1735H1291zM1313 1388H1319V1735H1313zM1336 1390H1342V1735H1336zM1359 1392H1365V1735H1359zM1382 1393H1388V1735H1382zM1405 1394H1410V1735H1405zM1428 1394H1433V1735H1428zM1450 1395H1456V1735H1450zM1473 1395H1479V1735H1473zM1496 1399H1502V1735H1496zM1519 1400H1525V1735H1519zM1542 1405H1547V1735H1542zM1565 1407H1570V1735H1565zM1588 1408H1593V1735H1588zM1610 1409H1616V1735H1610zM1633 1411H1639V1735H1633zM1656 1412H1662V1735H1656zM1679 1414H1684V1735H1679zM1702 1414H1707V1735H1702zM1725 1416H1730V1735H1725zM1747 1417H1753V1735H1747zM1770 1417H1776V1735H1770zM1793 1417H1799V1735H1793zM1816 1426H1821V1735H1816zM1839 1427H1844V1735H1839zM1862 1429H1867V1735H1862zM1884 1430H1890V1735H1884zM1907 1431H1913V1735H1907zM1930 1433H1936V1735H1930zM1953 1435H1959V1735H1953zM1976 1435H1981V1735H1976zM1999 1435H2004V1735H1999zM2021 1437H2027V1735H2021zM2044 1438H2050V1735H2044zM2067 1438H2073V1735H2067zM2090 1439H2096V1735H2090zM2113 1440H2118V1735H2113zM2136 1440H2141V1735H2136zM2159 1446H2164V1735H2159zM2181 1449H2187V1735H2181zM2204 1450H2210V1735H2204zM2227 1455H2233V1735H2227zM2250 1472H2255V1735H2250zM2273 1473H2278V1735H2273zM2296 1474H2301V1735H2296zM2318 1478H2324V1735H2318zM2341 1484H2347V1735H2341zM2364 1485H2370V1735H2364zM2387 1485H2392V1735H2387zM2410 1496H2415V1735H2410zM2433 1505H2438V1735H2433zM2455 1505H2461V1735H2455zM2478 1510H2484V1735H2478zM2501 1512H2507V1735H2501zM2524 1513H2530V1735H2524zM2547 1513H2552V1735H2547zM2570 1515H2575V1735H2570zM2592 1518H2598V1735H2592zM2615 1519H2621V1735H2615zM2638 1519H2644V1735H2638zM2661 1536H2667V1735H2661zM2684 1538H2689V1735H2684zM2707 1541H2712V1735H2707zM2729 1544H2735V1735H2729zM2752 1546H2758V1735H2752zM2775 1547H2781V1735H2775zM2798 1548H2804V1735H2798zM2821 1549H2826V1735H2821zM2844 1554H2849V1735H2844zM2867 1556H2872V1735H2867zM2889 1564H2895V1735H2889zM2912 1568H2918V1735H2912zM2935 1569H2941V1735H2935zM2958 1572H2963V1735H2958zM2981 1577H2986V1735H2981zM3004 1578H3009V1735H3004zM3026 1593H3032V1735H3026zM3049 1601H3055V1735H3049zM3072 1608H3078V1735H3072zM3095 1642H3100V1735H3095zM3118 1661H3123V1735H3118zM3141 1681H3146V1735H3141zM3163 1682H3169V1735H3163z" fill="#56b4e9"/>
<path d="M55.5 24.5H3184.5V1735.5H55.5z" stroke="#000" stroke-width="1" fill="none"/>
<rect x="3136" y="48" width="39" height="11" fill="#9400d3"/>
<g transform="translate(3091 49)"><use href="#c78" x="0"/><use href="#c111" x="5"/><use href="#c116" x="10"/><use href="#c83" x="20"/><use href="#c112" x="25"/><use href="#c97" x="30"/><use href="#c109" x="35"/></g>
<rect x="3136" y="70" width="39" height="11" fill="#009e73"/>
<g transform="translate(3111 71)"><use href="#c83" x="0"/><use href="#c112" x="5"/><use href="#c97" x="10"/><use href="#c109" x="15"/></g>
<rect x="3136" y="92" width="39" height="11" fill="#56b4e9"/>
<g transform="translate(3071 93)"><use href="#c83" x="0"/><use href="#c99" x="5"/><use href="#c111" x="10"/><use href="#c114" x="15"/><use href="#c101" x="20"/><use href="#c40" x="30"/><use href="#c48" x="35"/><use href="#c46" x="40"/><use href="#c46" x="45"/><use href="#c49" x="50"/><use href="#c41" x="55"/></g>
<g transform="translate(1389 8)"><use href="#c82" x="0"/><use href="#c66" x="5"/><use href="#c76" x="10"/><use href="#c83" x="20"/><use href="#c116" x="25"/><use href="#c97" x="30"/><use href="#c116" x="35"/><use href="#c105" x="40"/><use href="#c115" x="45"/><use href="#c116" x="50"/><use href="#c105" x="55"/><use href="#c99" x="60"/><use href="#c115" x="65"/><use href="#c45" x="75"/><use href="#c83" x="85"/><use href="#c97" x="90"/><use href="#c116" x="95"/><use href="#c83" x="105"/><use href="#c101" x="110"/><use href="#c112" x="115"/><use href="#c50" x="125"/><use href="#c48" x="130"/><use href="#c49" x="140"/><use href="#c50" x="145"/><use href="#c58" x="150"/><use href="#c53" x="155"/><use href="#c56" x="160"/><use href="#c58" x="165"/><use href="#c49" x="170"/><use href="#c51" x="175"/><use href="#c69" x="185"/><use href="#c68" x="190"/><use href="#c84" x="195"/><use href="#c50" x="205"/><use href="#c48" x="210"/><use href="#c50" x="215"/><use href="#c53" x="220"/><use href="#c45" x="230"/><use href="#c85" x="240"/><use href="#c115" x="245"/><use href="#c101" x="250"/><use href="#c108" x="255"/><use href="#c101" x="260"/><use href="#c115" x="265"/><use href="#c115" x="270"/><use href="#c45" x="280"/><use href="#c82" x="290"/><use href="#c101" x="295"/><use href="#c108" x="300"/><use href="#c97" x="305"/><use href="#c121" x="310"/><use href="#c101" x="315"/><use href="#c100" x="320"/><use href="#c116" x="330"/><use href="#c104" x="335"/><use href="#c114" x="340"/><use href="#c111" x="345"/><use href="#c117" x="350"/><use href="#c103" x="355"/><use href="#c104" x="360"/><use href="#c111" x="370"/><use href="#c116" x="375"/><use href="#c104" x="380"/><use href="#c101" x="385"/><use href="#c114" x="390"/><use href="#c83" x="400"/><use href="#c77" x="405"/><use href="#c84" x="410"/><use href="#c80" x="415"/><use href="#c115" x="425"/><use href="#c101" x="430"/><use href="#c114" x="435"/><use href="#c118" x="440"/><use href="#c101" x="445"/><use href="#c114" x="450"/><use href="#c115" x="455"/></g>
<g transform="translate(3 948) rotate(-90)"><use href="#c77" x="0"/><use href="#c101" x="5"/><use href="#c115" x="10"/><use href="#c115" x="15"/><use href="#c97" x="20"/><use href="#c103" x="25"/><use href="#c101" x="30"/><use href="#c67" x="40"/><use href="#c111" x="45"/><use href="#c117" x="50"/><use href="#c110" x="55"/><use href="#c116" x="60"/><use href="#c111" x="70"/><use href="#c114" x="75"/><use href="#c83" x="85"/><use href="#c112" x="90"/><use href="#c97" x="95"/><use href="#c109" x="100"/><use href="#c83" x="110"/><use href="#c99" x="115"/><use href="#c111" x="120"/><use href="#c114" x="125"/><use href="#c101" x="130"/></g>
<g transform="translate(10 20)"><use href="#c49" x="0"/><use href="#c120" x="5"/><use href="#c49" x="10"/><use href="#c48" x="15"/><use href="#c94" x="20"/><use href="#c123" x="25"/><use href="#c54" x="30"/><use href="#c125" x="35"/></g>
<g transform="translate(20 234)"><use href="#c49" x="0"/><use href="#c48" x="5"/><use href="#c48" x="10"/><use href="#c48" x="15"/><use href="#c48" x="20"/><use href="#c48" x="25"/></g>
<g transform="translate(25 448)"><use href="#c49" x="0"/><use href="#c48" x="5"/><use href="#c48" x="10"/><use href="#c48" x="15"/><use href="#c48" x="20"/></g>
<g transform="translate(30 662)"><use href="#c49" x="0"/><use href="#c48" x="5"/><use href="#c48" x="10"/><use href="#c48" x="15"/></g>
<g transform="translate(35 875)"><use href="#c49" x="0"/><use href="#c48" x="5"/><use href="#c48" x="10"/></g>
<g transform="translate(40 1089)"><use href="#c49" x="0"/><use href="#c48" x="5"/></g>
<g transform="translate(45 1303)"><use href="#c49" x="0"/></g>
<g transform="translate(35 1517)"><use href="#c48" x="0"/><use href="#c46" x="5"/><use href="#c49" x="10"/></g>
<g transform="translate(30 1731)"><use href="#c48" x="0"/><use href="#c46" x="5"/><use href="#c48" x="10"/><use href="#c49" x="15"/></g>
<g transform="translate(73 1739)"><use href="#c50" x="0"/><use href="#c64" x="5"/></g>
<g transform="translate(68 1747)"><use href="#c122" x="0"/><use href="#c101" x="5"/><use href="#c110" x="10"/><use href="#c46" x="15"/></g>
<g transform="translate(56 1755)"><use href="#c115" x="0"/><use href="#c112" x="5"/><use href="#c97" x="10"/><use href="#c109" x="15"/><use href="#c104" x="20"/><use href="#c97" x="25"/><use href="#c117" x="30"/><use href="#c115" x="35"/><use href="#c46" x="40"/></g>
<g transform="translate(71 1763)"><use href="#c111" x="0"/><use href="#c114" x="5"/><use href="#c103" x="10"/></g>
<g transform="translate(63 1771)"><use href="#c52" x="0"/><use href="#c104" x="10"/><use href="#c111" x="15"/><use href="#c112" x="20"/><use href="#c115" x="25"/></g>
<g transform="translate(96 1739)"><use href="#c57" x="0"/><use href="#c64" x="5"/></g>
<g transform="translate(91 1747)"><use href="#c122" x="0"/><use href="#c101" x="5"/><use href="#c110" x="10"/><use href="#c46" x="15"/></g>
<g transform="translate(79 1755)"><use href="#c115" x="0"/><use href="#c112" x="5"/><use href="#c97" x="10"/><use href="#c109" x="15"/><use href="#c104" x="20"/><use href="#c97" x="25"/><use href="#c117" x="30"/><use href="#c115" x="35"/><use href="#c46" x="40"/></g>
<g transform="translate(94 1763)"><use href="#c111" x="0"/><use href="#c114" x="5"/><use href="#c103" x="10"/></g>
<g transform="translate(89 1771)"><use href="#c49" x="0"/><use href="#c104" x="10"/><use href="#c111" x="15"/><use href="#c112" x="20"/></g>
<g transform="translate(119 1739)"><use href="#c50" x="0"/><use href="#c64" x="5"/></g>
<g transform="translate(114 1747)"><use href="#c122" x="0"/><use href="#c101" x="5"/><use href="#c110" x="10"/><use href="#c46" x="15"/></g>
<g transform="translate(102 1755)"><use href="#c115" x="0"/><use href="#c112" x="5"/><use href="#c97" x="10"/><use href="#c109" x="15"/><use href="#c104" x="20"/><use href="#c97" x="25"/><use href="#c117" x="30"/><use href="#c115" x="35"/><use href="#c46" x="40"/></g>
<g transform="translate(117 1763)"><use href="#c111" x="0"/><use href="#c114" x="5"/><use href="#c103" x="10"/></g>
<g transform="translate(109 1771)"><use href="#c50" x="0"/><use href="#c104" x="10"/><use href="#c111" x="15"/><use href="#c112" x="20"/><use href="#c115" x="25"/></g>
<g transform="translate(141 1739)"><use href="#c50" x="0"/><use href="#c64" x="5"/></g>
<g transform="translate(136 1747)"><use href="#c122" x="0"/><use href="#c101" x="5"/><use href="#c110" x="10"/><use href="#c46" x="15"/></g>
<g transform="translate(124 1755)"><use href="#c115" x="0"/><use href="#c112" x="5"/><use href="#c97" x="10"/><use href="#c109" x="15"/><use href="#c104" x="20"/><use href="#c97" x="25"/><use href="#c117" x="30"/><use href="#c115" x="35"/><use href="#c46" x="40"/></g>
<g transform="translate(139 1763)"><use href="#c111" x="0"/><use href="#c114" x="5"/><use href="#c103" x="10"/></g>
<g transform="translate(131 1771)"><use href="#c51" x="0"/><use href="#c104" x="10"/><use href="#c111" x="15"/><use href="#c112" x="20"/><use href="#c115" x="25"/></g>
<g transform="translate(164 1739)"><use href="#c56" x="0"/><use href="#c64" x="5"/></g>
<g transform="translate(164 1747)"><use href="#c89" x="0"/><use href="#c46" x="5"/></g>
<g transform="translate(157 1755)"><use href="#c108" x="0"/><use href="#c105" x="5"/><use href="#c115" x="10"/><use href="#c116" x="15"/><use href="#c46" x="20"/></g>
<g transform="translate(154 1763)"><use href="#c100" x="0"/><use href="#c110" x="5"/><use href="#c115" x="10"/><use href="#c119" x="15"/><use href="#c108" x="20"/><use href="#c46" x="25"/></g>
<g transform="translate(162 1771)"><use href="#c111" x="0"/><use href="#c114" x="5"/><use href="#c103" x="10"/></g>
<g transform="translate(154 1779)"><use href="#c50" x="0"/><use href="#c104" x="10"/><use href="#c111" x="15"/><use href="#c112" x="20"/><use href="#c115" x="25"/></g>
<g transform="translate(187 1739)"><use href="#c50" x="0"/><use href="#c64" x="5"/></g>
<g transform="translate(182 1747)"><use href="#c122" x="0"/><use href="#c101" x="5"/><use href="#c110" x="10"/><use href="#c46" x="15"/></g>
<g transform="translate(170 1755)"><use href="#c115" x="0"/><use href="#c112" x="5"/><use href="#c97" x="10"/><use href="#c109" x="15"/><use href="#c104" x="20"/><use href="#c97" x="25"/><use href="#c117" x="30"/><use href="#c115" x="35"/><use href="#c46" x="40"/></g>
<g transform="translate(185 1763)"><use href="#c111" x="0"/><use href="#c114" x="5"/><use href="#c103" x="10"/></g>
<g transform="translate(180 1771)"><use href="#c49" x="0"/><use href="#c104" x="10"/><use href="#c111" x="15"/><use href="#c112" x="20"/></g>
<g transform="translate(210 1739)"><use href="#c50" x="0"/><use href="#c64" x="5"/></g>
<g transform="translate(195 1747)"><use href="#c100" x="0"/><use href="#c110" x="5"/><use href="#c115" x="10"/><use href="#c98" x="15"/><use href="#c108" x="20"/><use href="#c45" x="25"/><use href="#c49" x="30"/><use href="#c46" x="35"/></g>
<g transform="translate(188 1755)"><use href="#c117" x="0"/><use href="#c99" x="5"/><use href="#c101" x="10"/><use href="#c112" x="15"/><use href="#c114" x="20"/><use href="#c111" x="25"/><use href="#c116" x="30"/><use href="#c101" x="35"/><use href="#c99" x="40"/><use href="#c116" x="45"/><use href="#c46" x="50"/></g>
<g transform="translate(208 1763)"><use href="#c110" x="0"/><use href="#c101" x="5"/><use href="#c116" x="10"/></g>
<g transform="translate(200 1771)"><use href="#c50" x="0"/><use href="#c104" x="10"/><use href="#c111" x="15"/><use href="#c112" x="20"/><use href="#c115" x="25"/></g>
<g transform="translate(233 1739)"><use href="#c50" x="0"/><use href="#c64" x="5"/></g>
<g transform="translate(218 1747)"><use href="#c100" x="0"/><use href="#c110" x="5"/><use href="#c115" x="10"/><use href="#c98" x="15"/><use href="#c108" x="20"/><use href="#c45" x="25"/><use href="#c49" x="30"/><use href="#c46" x="35"/></g>
<g transform="translate(211 1755)"><use href="#c117" x="0"/><use href="#c99" x="5"/><use href="#c101" x="10"/><use href="#c112" x="15"/><use href="#c114" x="20"/><use href="#c111" x="25"/><use href="#c116" x="30"/><use href="#c101" x="35"/><use href="#c99" x="40"/><use href="#c116" x="45"/><use href="#c46" x="50"/></g>
<g transform="translate(231 1763)"><use href="#c110" x="0"/><use href="#c101" x="5"/><use href="#c116" x="10"/></g>
<g transform="translate(226 1771)"><use href="#c49" x="0"/><use href="#c104" x="10"/><use href="#c111" x="15"/><use href="#c112" x="20"/></g>
<g transform="translate(256 1739)"><use href="#c50" x="0"/><use href="#c64" x="5"/></g>
<g transform="translate(254 1747)"><use href="#c98" x="0"/><use href="#c108" x="5"/><use href="#c46" x="10"/></g>
<g transform="translate(241 1755)"><use href="#c115" x="0"/><use href="#c112" x="5"/><use href="#c97" x="10"/><use href="#c109" x="15"/><use href="#c99" x="20"/><use href="#c111" x="25"/><use href="#c112" x="30"/><use href="#c46" x="35"/></g>
<g transform="translate(254 1763)"><use href="#c110" x="0"/><use href="#c101" x="5"/><use href="#c116" x="10"/></g>
<g transform="translate(246 1771)"><use href="#c51" x="0"/><use href="#c104" x="10"/><use href="#c111" x="15"/><use href="#c112" x="20"/><use href="#c115" x="25"/></g>
<g transform="translate(278 1739)"><use href="#c50" x="0"/><use href="#c64" x="5"/></g>
<g transform="translate(271 1747)"><use href="#c112" x="0"/><use href="#c115" x="5"/><use href="#c98" x="10"/><use href="#c108" x="15"/><use href="#c46" x="20"/></g>
<g transform="translate(263 1755)"><use href="#c115" x="0"/><use href="#c117" x="5"/><use href="#c114" x="10"/><use href="#c114" x="15"/><use href="#c105" x="20"/><use href="#c101" x="25"/><use href="#c108" x="30"/><use href="#c46" x="35"/></g>
<g transform="translate(276 1763)"><use href="#c99" x="0"/><use href="#c111" x="5"/><use href="#c109" x="10"/></g>
<g transform="translate(271 1771)"><use href="#c49" x="0"/><use href="#c104" x="10"/><use href="#c111" x="15"/><use href="#c112" x="20"/></g>
<g transform="translate(301 1739)"><use href="#c50" x="0"/><use href="#c64" x="5"/></g>
<g transform="translate(286 1747)"><use href="#c100" x="0"/><use href="#c110" x="5"/><use href="#c115" x="10"/><use href="#c98" x="15"/><use href="#c108" x="20"/><use href="#c45" x="25"/><use href="#c49" x="30"/><use href="#c46" x="35"/></g>
<g transform="translate(279 1755)"><use href="#c117" x="0"/><use href="#c99" x="5"/><use href="#c101" x="10"/><use href="#c112" x="15"/><use href="#c114" x="20"/><use href="#c111" x="25"/><use href="#c116" x="30"/><use href="#c101" x="35"/><use href="#c99" x="40"/><use href="#c116" x="45"/><use href="#c46" x="50"/></g>
<g transform="translate(299 1763)"><use href="#c110" x="0"/><use href="#c101" x="5"/><use href="#c116" x="10"/></g>
<g transform="translate(291 1771)"><use href="#c51" x="0"/><use href="#c104" x="10"/><use href="#c111" x="15"/><use href="#c112" x="20"/><use href="#c115" x="25"/></g>
<g transform="translate(324 1739)"><use href="#c52" x="0"/><use href="#c64" x="5"/></g>
<g transform="translate(319 1747)"><use href="#c122" x="0"/><use href="#c101" x="5"/><use href="#c110" x="10"/><use href="#c46" x="15"/></g>
<g transform="translate(307 1755)"><use href="#c115" x="0"/><use href="#c112" x="5"/><use href="#c97" x="10"/><use href="#c109" x="15"/><use href="#c104" x="20"/><use href="#c97" x="25"/><use href="#c117" x="30"/><use href="#c115" x="35"/><use href="#c46" x="40"/></g>
<g transform="translate(322 1763)"><use href="#c111" x="0"/><use href="#c114" x="5"/><use href="#c103" x="10"/></g>
<g transform="translate(317 1771)"><use href="#c49" x="0"/><use href="#c104" x="10"/><use href="#c111" x="15"/><use href="#c112" x="20"/></g>
<g transform="translate(347 1739)"><use href="#c50" x="0"/><use href="#c64" x="5"/></g>
<g transform="translate(345 1747)"><use href="#c98" x="0"/><use href="#c108" x="5"/><use href="#c46" x="10"/></g>
<g transform="translate(332 1755)"><use href="#c115" x="0"/><use href="#c112" x="5"/><use href="#c97" x="10"/><use href="#c109" x="15"/><use href="#c99" x="20"/><use href="#c111" x="25"/><use href="#c112" x="30"/><use href="#c46" x="35"/></g>
<g transform="translate(345 1763)"><use href="#c110" x="0"/><use href="#c101" x="5"/><use href="#c116" x="10"/></g>
<g transform="translate(340 1771)"><use href="#c49" x="0"/><use href="#c104" x="10"/><use href="#c111" x="15"/><use href="#c112" x="20"/></g>
<g transform="translate(370 1739)"><use href="#c51" x="0"/><use href="#c64" x="5"/></g>
<g transform="translate(365 1747)"><use href="#c122" x="0"/><use href="#c101" x="5"/><use href="#c110" x="10"/><use href="#c46" x="15"/></g>
<g transform="translate(353 1755)"><use href="#c115" x="0"/><use href="#c112" x="5"/><use href="#c97" x="10"/><use href="#c109" x="15"/><use href="#c104" x="20"/><use href="#c97" x="25"/><use href="#c117" x="30"/><use href="#c115" x="35"/><use href="#c46" x="40"/></g>
<g transform="translate(368 1763)"><use href="#c111" x="0"/><use href="#c114" x="5"/><use href="#c103" x="10"/></g>
<g transform="translate(363 1771)"><use href="#c49" x="0"/><use href="#c104" x="10"/><use href="#c111" x="15"/><use href="#c112" x="20"/></g>
<g transform="translate(393 1739)"><use href="#c50" x="0"/><use href="#c64" x="5"/></g>
<g transform="translate(378 1747)"><use href="#c100" x="0"/><use href="#c110" x="5"/><use href="#c115" x="10"/><use href="#c98" x="15"/><use href="#c108" x="20"/><use href="#c45" x="25"/><use href="#c51" x="30"/><use href="#c46" x="35"/></g>
<g transform="translate(371 1755)"><use href="#c117" x="0"/><use href="#c99" x="5"/><use href="#c101" x="10"/><use href="#c112" x="15"/><use href="#c114" x="20"/><use href="#c111" x="25"/><use href="#c116" x="30"/><use href="#c101" x="35"/><use href="#c99" x="40"/><use href="#c116" x="45"/><use href="#c46" x="50"/></g>
<g transform="translate(391 1763)"><use href="#c110" x="0"/><use href="#c101" x="5"/><use href="#c116" x="10"/></g>
<g transform="translate(383 1771)"><use href="#c54" x="0"/><use href="#c104" x="10"/><use href="#c111" x="15"/><use href="#c112" x="20"/><use href="#c115" x="25"/></g>
<g transform="translate(415 1739)"><use href="#c52" x="0"/><use href="#c64" x="5"/></g>
<g transform="translate(410 1747)"><use href="#c122" x="0"/><use href="#c101" x="5"/><use href="#c110" x="10"/><use href="#c46" x="15"/></g>
<g transform="translate(398 1755)"><use href="#c115" x="0"/><use href="#c112" x="5"/><use href="#c97" x="10"/><use href="#c109" x="15"/><use href="#c104" x="20"/><use href="#c97" x="25"/><use href="#c117" x="30"/><use href="#c115" x="35"/><use href="#c46" x="40"/></g>
<g transform="translate(413 1763)"><use href="#c111" x="0"/><use href="#c114" x="5"/><use href="#c103" x="10"/></g>
<g transform="translate(405 1771)"><use href="#c52" x="0"/><use href="#c104" x="10"/><use href="#c111" x="15"/><use href="#c112" x="20"/><use href="#c115" x="25"/></g>
<g transform="translate(438 1739)"><use href="#c51" x="0"/><use href="#c64" x="5"/></g>
<g transform="translate(433 1747)"><use href="#c122" x="0"/><use href="#c101" x="5"/><use href="#c110" x="10"/><use href="#c46" x="15"/></g>
<g transform="translate(421 1755)"><use href="#c115" x="0"/><use href="#c112" x="5"/><use href="#c97" x="10"/><use href="#c109" x="15"/><use href="#c104" x="20"/><use href="#c97" x="25"/><use href="#c117" x="30"/><use href="#c115" x="35"/><use href="#c46" x="40"/></g>
<g transform="translate(436 1763)"><use href="#c111" x="0"/><use href="#c114" x="5"/><use href="#c103" x="10"/></g>
<g transform="translate(428 1771)"><use href="#c50" x="0"/><use href="#c104" x="10"/><use href="#c111" x="15"/><use href="#c112" x="20"/><use href="#c115" x="25"/></g>
<g transform="translate(461 1739)"><use href="#c56" x="0"/><use href="#c64" x="5"/></g>
<g transform="translate(461 1747)"><use href="#c89" x="0"/><use href="#c46" x="5"/></g>
<g transform="translate(454 1755)"><use href="#c108" x="0"/><use href="#c105" x="5"/><use href="#c115" x="10"/><use href="#c116" x="15"/><use href="#c46" x="20"/></g>
<g transform="translate(451 1763)"><use href="#c100" x="0"/><use href="#c110" x="5"/><use href="#c115" x="10"/><use href="#c119" x="15"/><use href="#c108" x="20"/><use href="#c46" x="25"/></g>
<g transform="translate(459 1771)"><use href="#c111" x="0"/><use href="#c114" x="5"/><use href="#c103" x="10"/></g>
<g transform="translate(454 1779)"><use href="#c49" x="0"/><use href="#c104" x="10"/><use href="#c111" x="15"/><use href="#c112" x="20"/></g>
<g transform="translate(484 1739)"><use href="#c56" x="0"/><use href="#c64" x="5"/></g>
<g transform="translate(484 1747)"><use href="#c50" x="0"/><use href="#c46" x="5"/></g>
<g transform="translate(477 1755)"><use href="#c108" x="0"/><use href="#c105" x="5"/><use href="#c115" x="10"/><use href="#c116" x="15"/><use href="#c46" x="20"/></g>
<g transform="translate(474 1763)"><use href="#c100" x="0"/><use href="#c110" x="5"/><use href="#c115" x="10"/><use href="#c119" x="15"/><use href="#c108" x="20"/><use href="#c46" x="25"/></g>
<g transform="translate(482 1771)"><use href="#c111" x="0"/><use href="#c114" x="5"/><use href="#c103" x="10"/></g>
<g transform="translate(477 1779)"><use href="#c49" x="0"/><use href="#c104" x="10"/><use href="#c111" x="15"/><use href="#c112" x="20"/></g>
<g transform="translate(507 1739)"><use href="#c50" x="0"/><use href="#c64" x="5"/></g>
<g transform="translate(505 1747)"><use href="#c98" x="0"/><use href="#c108" x="5"/><use href="#c46" x="10"/></g>
<g transform="translate(492 1755)"><use href="#c115" x="0"/><use href="#c112" x="5"/><use href="#c97" x="10"/><use href="#c109" x="15"/><use href="#c99" x="20"/><use href="#c111" x="25"/><use href="#c112" x="30"/><use href="#c46" x="35"/></g>
<g transform="translate(505 1763)"><use href="#c110" x="0"/><use href="#c101" x="5"/><use href="#c116" x="10"/></g>
<g transform="translate(497 1771)"><use href="#c50" x="0"/><use href="#c104" x="10"/><use href="#c111" x="15"/><use href="#c112" x="20"/><use href="#c115" x="25"/></g>
<g transform="translate(530 1739)"><use href="#c50" x="0"/><use href="#c64" x="5"/></g>
<g transform="translate(515 1747)"><use href="#c100" x="0"/><use href="#c110" x="5"/><use href="#c115" x="10"/><use href="#c98" x="15"/><use href="#c108" x="20"/><use href="#c45" x="25"/><use href="#c50" x="30"/><use href="#c46" x="35"/></g>
<g transform="translate(508 1755)"><use href="#c117" x="0"/><use href="#c99" x="5"/><use href="#c101" x="10"/><use href="#c112" x="15"/><use href="#c114" x="20"/><use href="#c111" x="25"/><use href="#c116" x="30"/><use href="#c101" x="35"/><use href="#c99" x="40"/><use href="#c116" x="45"/><use href="#c46" x="50"/></g>
<g transform="translate(528 1763)"><use href="#c110" x="0"/><use href="#c101" x="5"/><use href="#c116" x="10"/></g>
<g transform="translate(523 1771)"><use href="#c49" x="0"/><use href="#c104" x="10"/><use href="#c111" x="15"/><use href="#c112" x="20"/></g>
<g transform="translate(552 1739)"><use href="#c51" x="0"/><use href="#c64" x="5"/></g>
<g transform="translate(547 1747)"><use href="#c122" x="0"/><use href="#c101" x="5"/><use href="#c110" x="10"/><use href="#c46" x="15"/></g>
<g transform="translate(535 1755)"><use href="#c115" x="0"/><use href="#c112" x="5"/><use href="#c97" x="10"/><use href="#c109" x="15"/><use href="#c104" x="20"/><use href="#c97" x="25"/><use href="#c117" x="30"/><use href="#c115" x="35"/><use href="#c46" x="40"/></g>
<g transform="translate(550 1763)"><use href="#c111" x="0"/><use href="#c114" x="5"/><use href="#c103" x="10"/></g>
<g transform="translate(542 1771)"><use href="#c52" x="0"/><use href="#c104" x="10"/><use href="#c111" x="15"/><use href="#c112" x="20"/><use href="#c115" x="25"/></g>
<g transform="translate(575 1739)"><use href="#c52" x="0"/><use href="#c64" x="5"/></g>
<g transform="translate(570 1747)"><use href="#c122" x="0"/><use href="#c101" x="5"/><use href="#c110" x="10"/><use href="#c46" x="15"/></g>
<g transform="translate(558 1755)"><use href="#c115" x="0"/><use href="#c112" x="5"/><use href="#c97" x="10"/><use href="#c109" x="15"/><use href="#c104" x="20"/><use href="#c97" x="25"/><use href="#c117" x="30"/><use href="#c115" x="35"/><use href="#c46" x="40"/></g>
<g transform="translate(573 1763)"><use href="#c111" x="0"/><use href="#c114" x="5"/><use href="#c103" x="10"/></g>
<g transform="translate(565 1771)"><use href="#c51" x="0"/><use href="#c104" x="10"/><use href="#c111" x="15"/><use href="#c112" x="20"/><use href="#c115" x="25"/></g>
<g transform="translate(598 1739)"><use href="#c52" x="0"/><use href="#c64" x="5"/></g>
<g transform="translate(593 1747)"><use href="#c122" x="0"/><use href="#c101" x="5"/><use href="#c110" x="10"/><use href="#c46" x="15"/></g>
<g transform="translate(581 1755)"><use href="#c115" x="0"/><use href="#c112" x="5"/><use href="#c97" x="10"/><use href="#c109" x="15"/><use href="#c104" x="20"/><use href="#c97" x="25"/><use href="#c117" x="30"/><use href="#c115" x="35"/><use href="#c46" x="40"/></g>
<g transform="translate(596 1763)"><use href="#c111" x="0"/><use href="#c114" x="5"/><use href="#c103" x="10"/></g>
<g transform="translate(588 1771)"><use href="#c50" x="0"/><use href="#c104" x="10"/><use href="#c111" x="15"/><use href="#c112" x="20"/><use href="#c115" x="25"/></g>
<g transform="translate(621 1739)"><use href="#c50" x="0"/><use href="#c64" x="5"/></g>
<g transform="translate(606 1747)"><use href="#c100" x="0"/><use href="#c110" x="5"/><use href="#c115" x="10"/><use href="#c98" x="15"/><use href="#c108" x="20"/><use href="#c45" x="25"/><use href="#c50" x="30"/><use href="#c46" x="35"/></g>
<g transform="translate(599 1755)"><use href="#c117" x="0"/><use href="#c99" x="5"/><use href="#c101" x="10"/><use href="#c112" x="15"/><use href="#c114" x="20"/><use href="#c111" x="25"/><use href="#c116" x="30"/><use href="#c101" x="35"/><use href="#c99" x="40"/><use href="#c116" x="45"/><use href="#c46" x="50"/></g>
<g transform="translate(619 1763)"><use href="#c110" x="0"/><use href="#c101" x="5"/><use href="#c116" x="10"/></g>
<g transform="translate(611 1771)"><use href="#c50" x="0"/><use href="#c104" x="10"/><use href="#c111" x="15"/><use href="#c112" x="20"/><use href="#c115" x="25"/></g>
<g transform="translate(642 1739)"><use href="#c49" x="0"/><use href="#c48" x="5"/><use href="#c64" x="10"/></g>
<g transform="translate(639 1747)"><use href="#c122" x="0"/><use href="#c101" x="5"/><use href="#c110" x="10"/><use href="#c46" x="15"/></g>
<g transform="translate(627 1755)"><use href="#c115" x="0"/><use href="#c112" x="5"/><use href="#c97" x="10"/><use href="#c109" x="15"/><use href="#c104" x="20"/><use href="#c97" x="25"/><use href="#c117" x="30"/><use href="#c115" x="35"/><use href="#c46" x="40"/></g>
<g transform="translate(642 1763)"><use href="#c111" x="0"/><use href="#c114" x="5"/><use href="#c103" x="10"/></g>
<g transform="translate(634 1771)"><use href="#c53" x="0"/><use href="#c104" x="10"/><use href="#c111" x="15"/><use href="#c112" x="20"/><use href="#c115" x="25"/></g>
<g transform="translate(665 1739)"><use href="#c49" x="0"/><use href="#c53" x="5"/><use href="#c64" x="10"/></g>
<g transform="translate(667 1747)"><use href="#c48" x="0"/><use href="#c46" x="5"/></g>
<g transform="translate(660 1755)"><use href="#c108" x="0"/><use href="#c105" x="5"/><use href="#c115" x="10"/><use href="#c116" x="15"/><use href="#c46" x="20"/></g>
<g transform="translate(657 1763)"><use href="#c100" x="0"/><use href="#c110" x="5"/><use href="#c115" x="10"/><use href="#c119" x="15"/><use href="#c108" x="20"/><use href="#c46" x="25"/></g>
<g transform="translate(665 1771)"><use href="#c111" x="0"/><use href="#c114" x="5"/><use href="#c103" x="10"/></g>
<g transform="translate(660 1779)"><use href="#c49" x="0"/><use href="#c104" x="10"/><use href="#c111" x="15"/><use href="#c112" x="20"/></g>
<g transform="translate(688 1739)"><use href="#c49" x="0"/><use href="#c53" x="5"/><use href="#c64" x="10"/></g>
<g transform="translate(690 1747)"><use href="#c89" x="0"/><use href="#c46" x="5"/></g>
<g transform="translate(683 1755)"><use href="#c108" x="0"/><use href="#c105" x="5"/><use href="#c115" x="10"/><use href="#c116" x="15"/><use href="#c46" x="20"/></g>
<g transform="translate(680 1763)"><use href="#c100" x="0"/><use href="#c110" x="5"/><use href="#c115" x="10"/><use href="#c119" x="15"/><use href="#c108" x="20"/><use href="#c46" x="25"/></g>
<g transform="translate(688 1771)"><use href="#c111" x="0"/><use href="#c114" x="5"/><use href="#c103" x="10"/></g>
<g transform="translate(683 1779)"><use href="#c49" x="0"/><use href="#c104" x="10"/><use href="#c111" x="15"/><use href="#c112" x="20"/></g>
<g transform="translate(712 1739)"><use href="#c50" x="0"/><use href="#c64" x="5"/></g>
<g transform="translate(697 1747)"><use href="#c100" x="0"/><use href="#c110" x="5"/><use href="#c115" x="10"/><use href="#c98" x="15"/><use href="#c108" x="20"/><use href="#c45" x="25"/><use href="#c51" x="30"/><use href="#c46" x="35"/></g>
<g transform="translate(690 1755)"><use href="#c117" x="0"/><use href="#c99" x="5"/><use href="#c101" x="10"/><use href="#c112" x="15"/><use href="#c114" x="20"/><use href="#c111" x="25"/><use href="#c116" x="30"/><use href="#c101" x="35"/><use href="#c99" x="40"/><use href="#c116" x="45"/><use href="#c46" x="50"/></g>
<g transform="translate(710 1763)"><use href="#c110" x="0"/><use href="#c101" x="5"/><use href="#c116" x="10"/></g>
<g transform="translate(702 1771)"><use href="#c53" x="0"/><use href="#c104" x="10"/><use href="#c111" x="15"/><use href="#c112" x="20"/><use href="#c115" x="25"/></g>
<g transform="translate(733 1739)"><use href="#c49" x="0"/><use href="#c49" x="5"/><use href="#c64" x="10"/></g>
<g transform="translate(735 1747)"><use href="#c48" x="0"/><use href="#c46" x="5"/></g>
<g transform="translate(728 1755)"><use href="#c108" x="0"/><use href="#c105" x="5"/><use href="#c115" x="10"/><use href="#c116" x="15"/><use href="#c46" x="20"/></g>
<g transform="translate(725 1763)"><use href="#c100" x="0"/><use href="#c110" x="5"/><use href="#c115" x="10"/><use href="#c119" x="15"/><use href="#c108" x="20"/><use href="#c46" x="25"/></g>
<g transform="translate(733 1771)"><use href="#c111" x="0"/><use href="#c114" x="5"/><use href="#c103" x="10"/></g>
<g transform="translate(728 1779)"><use href="#c49" x="0"/><use href="#c104" x="10"/><use href="#c111" x="15"/><use href="#c112" x="20"/></g>
<g transform="translate(758 1739)"><use href="#c54" x="0"/><use href="#c64" x="5"/></g>
<g transform="translate(758 1747)"><use href="#c89" x="0"/><use href="#c46" x="5"/></g>
<g transform="translate(751 1755)"><use href="#c108" x="0"/><use href="#c105" x="5"/><use href="#c115" x="10"/><use href="#c116" x="15"/><use href="#c46" x="20"/></g>
<g transform="translate(748 1763)"><use href="#c100" x="0"/><use href="#c110" x="5"/><use href="#c115" x="10"/><use href="#c119" x="15"/><use href="#c108" x="20"/><use href="#c46" x="25"/></g>
<g transform="translate(756 1771)"><use href="#c111" x="0"/><use href="#c114" x="5"/><use href="#c103" x="10"/></g>
<g transform="translate(748 1779)"><use href="#c52" x="0"/><use href="#c104" x="10"/><use href="#c111" x="15"/><use href="#c112" x="20"/><use href="#c115" x="25"/></g>
<g transform="translate(779 1739)"><use href="#c49" x="0"/><use href="#c49" x="5"/><use href="#c64" x="10"/></g>
<g transform="translate(781 1747)"><use href="#c49" x="0"/><use href="#c46" x="5"/></g>
<g transform="translate(774 1755)"><use href="#c108" x="0"/><use href="#c105" x="5"/><use href="#c115" x="10"/><use href="#c116" x="15"/><use href="#c46" x="20"/></g>
<g transform="translate(771 1763)"><use href="#c100" x="0"/><use href="#c110" x="5"/><use href="#c115" x="10"/><use href="#c119" x="15"/><use href="#c108" x="20"/><use href="#c46" x="25"/></g>
<g transform="translate(779 1771)"><use href="#c111" x="0"/><use href="#c114" x="5"/><use href="#c103" x="10"/></g>
<g transform="translate(771 1779)"><use href="#c50" x="0"/><use href="#c104" x="10"/><use href="#c111" x="15"/><use href="#c112" x="20"/><use href="#c115" x="25"/></g>
<g transform="translate(804 1739)"><use href="#c53" x="0"/><use href="#c64" x="5"/></g>
<g transform="translate(804 1747)"><use href="#c89" x="0"/><use href="#c46" x="5"/></g>
<g transform="translate(797 1755)"><use href="#c108" x="0"/><use href="#c105" x="5"/><use href="#c115" x="10"/><use href="#c116" x="15"/><use href="#c46" x="20"/></g>
<g transform="translate(794 1763)"><use href="#c100" x="0"/><use href="#c110" x="5"/><use href="#c115" x="10"/><use href="#c119" x="15"/><use href="#c108" x="20"/><use href="#c46" x="25"/></g>
<g transform="translate(802 1771)"><use href="#c111" x="0"/><use href="#c114" x="5"/><use href="#c103" x="10"/></g>
<g transform="translate(794 1779)"><use href="#c53" x="0"/><use href="#c104" x="10"/><use href="#c111" x="15"/><use href="#c112" x="20"/><use href="#c115" x="25"/></g>
<g transform="translate(827 1739)"><use href="#c50" x="0"/><use href="#c64" x="5"/></g>
<g transform="translate(812 1747)"><use href="#c100" x="0"/><use href="#c110" x="5"/><use href="#c115" x="10"/><use href="#c98" x="15"/><use href="#c108" x="20"/><use href="#c45" x="25"/><use href="#c51" x="30"/><use href="#c46" x="35"/></g>
<g transform="translate(805 1755)"><use href="#c117" x="0"/><use href="#c99" x="5"/><use href="#c101" x="10"/><use href="#c112" x="15"/><use href="#c114" x="20"/><use href="#c111" x="25"/><use href="#c116" x="30"/><use href="#c101" x="35"/><use href="#c99" x="40"/><use href="#c116" x="45"/><use href="#c46" x="50"/></g>
<g transform="translate(825 1763)"><use href="#c110" x="0"/><use href="#c101" x="5"/><use href="#c116" x="10"/></g>
<g transform="translate(817 1771)"><use href="#c50" x="0"/><use href="#c104" x="10"/><use href="#c111" x="15"/><use href="#c112" x="20"/><use href="#c115" x="25"/></g>
<g transform="translate(849 1739)"><use href="#c51" x="0"/><use href="#c64" x="5"/></g>
<g transform="translate(844 1747)"><use href="#c122" x="0"/><use href="#c101" x="5"/><use href="#c110" x="10"/><use href="#c46" x="15"/></g>
<g transform="translate(832 1755)"><use href="#c115" x="0"/><use href="#c112" x="5"/><use href="#c97" x="10"/><use href="#c109" x="15"/><use href="#c104" x="20"/><use href="#c97" x="25"/><use href="#c117" x="30"/><use href="#c115" x="35"/><use href="#c46" x="40"/></g>
<g transform="translate(847 1763)"><use href="#c111" x="0"/><use href="#c114" x="5"/><use href="#c103" x="10"/></g>
<g transform="translate(839 1771)"><use href="#c51" x="0"/><use href="#c104" x="10"/><use href="#c111" x="15"/><use href="#c112" x="20"/><use href="#c115" x="25"/></g>
<g transform="translate(870 1739)"><use href="#c49" x="0"/><use href="#c49" x="5"/><use href="#c64" x="10"/></g>
<g transform="translate(867 1747)"><use href="#c122" x="0"/><use href="#c101" x="5"/><use href="#c110" x="10"/><use href="#c46" x="15"/></g>
<g transform="translate(855 1755)"><use href="#c115" x="0"/><use href="#c112" x="5"/><use href="#c97" x="10"/><use href="#c109" x="15"/><use href="#c104" x="20"/><use href="#c97" x="25"/><use href="#c117" x="30"/><use href="#c115" x="35"/><use href="#c46" x="40"/></g>
<g transform="translate(870 1763)"><use href="#c111" x="0"/><use href="#c114" x="5"/><use href="#c103" x="10"/></g>
<g transform="translate(865 1771)"><use href="#c49" x="0"/><use href="#c104" x="10"/><use href="#c111" x="15"/><use href="#c112" x="20"/></g>
<g transform="translate(893 1739)"><use href="#c49" x="0"/><use href="#c49" x="5"/><use href="#c64" x="10"/></g>
<g transform="translate(895 1747)"><use href="#c48" x="0"/><use href="#c46" x="5"/></g>
<g transform="translate(888 1755)"><use href="#c108" x="0"/><use href="#c105" x="5"/><use href="#c115" x="10"/><use href="#c116" x="15"/><use href="#c46" x="20"/></g>
<g transform="translate(885 1763)"><use href="#c100" x="0"/><use href="#c110" x="5"/><use href="#c115" x="10"/><use href="#c119" x="15"/><use href="#c108" x="20"/><use href="#c46" x="25"/></g>
<g transform="translate(893 1771)"><use href="#c111" x="0"/><use href="#c114" x="5"/><use href="#c103" x="10"/></g>
<g transform="translate(885 1779)"><use href="#c50" x="0"/><use href="#c104" x="10"/><use href="#c111" x="15"/><use href="#c112" x="20"/><use href="#c115" x="25"/></g>
<g transform="translate(918 1739)"><use href="#c51" x="0"/><use href="#c64" x="5"/></g>
<g transform="translate(918 1747)"><use href="#c49" x="0"/><use href="#c46" x="5"/></g>
<g transform="translate(911 1755)"><use href="#c108" x="0"/><use href="#c105" x="5"/><use href="#c115" x="10"/><use href="#c116" x="15"/><use href="#c46" x="20"/></g>
<g transform="translate(908 1763)"><use href="#c100" x="0"/><use href="#c110" x="5"/><use href="#c115" x="10"/><use href="#c119" x="15"/><use href="#c108" x="20"/><use href="#c46" x="25"/></g>
<g transform="translate(916 1771)"><use href="#c111" x="0"/><use href="#c114" x="5"/><use href="#c103" x="10"/></g>
<g transform="translate(908 1779)"><use href="#c52" x="0"/><use href="#c104" x="10"/><use href="#c111" x="15"/><use href="#c112" x="20"/><use href="#c115" x="25"/></g>
<g transform="translate(939 1739)"><use href="#c49" x="0"/><use href="#c49" x="5"/><use href="#c64" x="10"/></g>
<g transform="translate(941 1747)"><use href="#c49" x="0"/><use href="#c46" x="5"/></g>
<g transform="translate(934 1755)"><use href="#c108" x="0"/><use href="#c105" x="5"/><use href="#c115" x="10"/><use href="#c116" x="15"/><use href="#c46" x="20"/></g>
<g transform="translate(931 1763)"><use href="#c100" x="0"/><use href="#c110" x="5"/><use href="#c115" x="10"/><use href="#c119" x="15"/><use href="#c108" x="20"/><use href="#c46" x="25"/></g>
<g transform="translate(939 1771)"><use href="#c111" x="0"/><use href="#c114" x="5"/><use href="#c103" x="10"/></g>
<g transform="translate(934 1779)"><use href="#c49" x="0"/><use href="#c104" x="10"/><use href="#c111" x="15"/><use href="#c112" x="20"/></g>
<g transform="translate(964 1739)"><use href="#c50" x="0"/><use href="#c64" x="5"/></g>
<g transform="translate(949 1747)"><use href="#c100" x="0"/><use href="#c110" x="5"/><use href="#c115" x="10"/><use href="#c98" x="15"/><use href="#c108" x="20"/><use href="#c45" x="25"/><use href="#c50" x="30"/><use href="#c46" x="35"/></g>
<g transform="translate(942 1755)"><use href="#c117" x="0"/><use href="#c99" x="5"/><use href="#c101" x="10"/><use href="#c112" x="15"/><use href="#c114" x="20"/><use href="#c111" x="25"/><use href="#c116" x="30"/><use href="#c101" x="35"/><use href="#c99" x="40"/><use href="#c116" x="45"/><use href="#c46" x="50"/></g>
<g transform="translate(962 1763)"><use href="#c110" x="0"/><use href="#c101" x="5"/><use href="#c116" x="10"/></g>
<g transform="translate(954 1771)"><use href="#c51" x="0"/><use href="#c104" x="10"/><use href="#c111" x="15"/><use href="#c112" x="20"/><use href="#c115" x="25"/></g>
<g transform="translate(986 1739)"><use href="#c50" x="0"/><use href="#c64" x="5"/></g>
<g transform="translate(979 1747)"><use href="#c112" x="0"/><use href="#c115" x="5"/><use href="#c98" x="10"/><use href="#c108" x="15"/><use href="#c46" x="20"/></g>
<g transform="translate(971 1755)"><use href="#c115" x="0"/><use href="#c117" x="5"/><use href="#c114" x="10"/><use href="#c114" x="15"/><use href="#c105" x="20"/><use href="#c101" x="25"/><use href="#c108" x="30"/><use href="#c46" x="35"/></g>
<g transform="translate(984 1763)"><use href="#c99" x="0"/><use href="#c111" x="5"/><use href="#c109" x="10"/></g>
<g transform="translate(976 1771)"><use href="#c50" x="0"/><use href="#c104" x="10"/><use href="#c111" x="15"/><use href="#c112" x="20"/><use href="#c115" x="25"/></g>
<g transform="translate(1009 1739)"><use href="#c50" x="0"/><use href="#c64" x="5"/></g>
<g transform="translate(994 1747)"><use href="#c100" x="0"/><use href="#c110" x="5"/><use href="#c115" x="10"/><use href="#c98" x="15"/><use href="#c108" x="20"/><use href="#c45" x="25"/><use href="#c51" x="30"/><use href="#c46" x="35"/></g>
<g transform="translate(987 1755)"><use href="#c117" x="0"/><use href="#c99" x="5"/><use href="#c101" x="10"/><use href="#c112" x="15"/><use href="#c114" x="20"/><use href="#c111" x="25"/><use href="#c116" x="30"/><use href="#c101" x="35"/><use href="#c99" x="40"/><use href="#c116" x="45"/><use href="#c46" x="50"/></g>
<g transform="translate(1007 1763)"><use href="#c110" x="0"/><use href="#c101" x="5"/><use href="#c116" x="10"/></g>
<g transform="translate(1002 1771)"><use href="#c49" x="0"/><use href="#c104" x="10"/><use href="#c111" x="15"/><use href="#c112" x="20"/></g>
<g transform="translate(1032 1739)"><use href="#c50" x="0"/><use href="#c64" x="5"/></g>
<g transform="translate(1017 1747)"><use href="#c100" x="0"/><use href="#c110" x="5"/><use href="#c115" x="10"/><use href="#c98" x="15"/><use href="#c108" x="20"/><use href="#c45" x="25"/><use href="#c51" x="30"/><use href="#c46" x="35"/></g>
<g transform="translate(1010 1755)"><use href="#c117" x="0"/><use href="#c99" x="5"/><use href="#c101" x="10"/><use href="#c112" x="15"/><use href="#c114" x="20"/><use href="#c111" x="25"/><use href="#c116" x="30"/><use href="#c101" x="35"/><use href="#c99" x="40"/><use href="#c116" x="45"/><use href="#c46" x="50"/></g>
<g transform="translate(1030 1763)"><use href="#c110" x="0"/><use href="#c101" x="5"/><use href="#c116" x="10"/></g>
<g transform="translate(1022 1771)"><use href="#c51" x="0"/><use href="#c104" x="10"/><use href="#c111" x="15"/><use href="#c112" x="20"/><use href="#c115" x="25"/></g>
<g transform="translate(1055 1739)"><use href="#c50" x="0"/><use href="#c64" x="5"/></g>
<g transform="translate(1040 1747)"><use href="#c100" x="0"/><use href="#c110" x="5"/><use href="#c115" x="10"/><use href="#c98" x="15"/><use href="#c108" x="20"/><use href="#c45" x="25"/><use href="#c50" x="30"/><use href="#c46" x="35"/></g>
<g transform="translate(1033 1755)"><use href="#c117" x="0"/><use href="#c99" x="5"/><use href="#c101" x="10"/><use href="#c112" x="15"/><use href="#c114" x="20"/><use href="#c111" x="25"/><use href="#c116" x="30"/><use href="#c101" x="35"/><use href="#c99" x="40"/><use href="#c116" x="45"/><use href="#c46" x="50"/></g>
<g transform="translate(1053 1763)"><use href="#c110" x="0"/><use href="#c101" x="5"/><use href="#c116" x="10"/></g>
<g transform="translate(1045 1771)"><use href="#c52" x="0"/><use href="#c104" x="10"/><use href="#c111" x="15"/><use href="#c112" x="20"/><use href="#c115" x="25"/></g>
<g transform="translate(1076 1739)"><use href="#c49" x="0"/><use href="#c49" x="5"/><use href="#c64" x="10"/></g>
<g transform="translate(1078 1747)"><use href="#c89" x="0"/><use href="#c46" x="5"/></g>
<g transform="translate(1071 1755)"><use href="#c108" x="0"/><use href="#c105" x="5"/><use href="#c115" x="10"/><use href="#c116" x="15"/><use href="#c46" x="20"/></g>
<g transform="translate(1068 1763)"><use href="#c100" x="0"/><use href="#c110" x="5"/><use href="#c115" x="10"/><use href="#c119" x="15"/><use href="#c108" x="20"/><use href="#c46" x="25"/></g>
<g transform="translate(1076 1771)"><use href="#c111" x="0"/><use href="#c114" x="5"/><use href="#c103" x="10"/></g>
<g transform="translate(1071 1779)"><use href="#c49" x="0"/><use href="#c104" x="10"/><use href="#c111" x="15"/><use href="#c112" x="20"/></g>
<g transform="translate(1101 1739)"><use href="#c50" x="0"/><use href="#c64" x="5"/></g>
<g transform="translate(1086 1747)"><use href="#c100" x="0"/><use href="#c110" x="5"/><use href="#c115" x="10"/><use href="#c98" x="15"/><use href="#c108" x="20"/><use href="#c45" x="25"/><use href="#c51" x="30"/><use href="#c46" x="35"/></g>
<g transform="translate(1079 1755)"><use href="#c117" x="0"/><use href="#c99" x="5"/><use href="#c101" x="10"/><use href="#c112" x="15"/><use href="#c114" x="20"/><use href="#c111" x="25"/><use href="#c116" x="30"/><use href="#c101" x="35"/><use href="#c99" x="40"/><use href="#c116" x="45"/><use href="#c46" x="50"/></g>
<g transform="translate(1099 1763)"><use href="#c110" x="0"/><use href="#c101" x="5"/><use href="#c116" x="10"/></g>
<g transform="translate(1091 1771)"><use href="#c52" x="0"/><use href="#c104" x="10"/><use href="#c111" x="15"/><use href="#c112" x="20"/><use href="#c115" x="25"/></g>
<g transform="translate(1123 1739)"><use href="#c50" x="0"/><use href="#c64" x="5"/></g>
<g transform="translate(1118 1747)"><use href="#c105" x="0"/><use href="#c112" x="5"/><use href="#c115" x="10"/><use href="#c46" x="15"/></g>
<g transform="translate(1093 1755)"><use href="#c98" x="0"/><use href="#c97" x="5"/><use href="#c99" x="10"/><use href="#c107" x="15"/><use href="#c115" x="20"/><use href="#c99" x="25"/><use href="#c97" x="30"/><use href="#c116" x="35"/><use href="#c116" x="40"/><use href="#c101" x="45"/><use href="#c114" x="50"/><use href="#c101" x="55"/><use href="#c114" x="60"/><use href="#c46" x="65"/></g>
<g transform="translate(1121 1763)"><use href="#c111" x="0"/><use href="#c114" x="5"/><use href="#c103" x="10"/></g>
<g transform="translate(1116 1771)"><use href="#c49" x="0"/><use href="#c104" x="10"/><use href="#c111" x="15"/><use href="#c112" x="20"/></g>
<g transform="translate(1144 1739)"><use href="#c49" x="0"/><use href="#c49" x="5"/><use href="#c64" x="10"/></g>
<g transform="translate(1146 1747)"><use href="#c50" x="0"/><use href="#c46" x="5"/></g>
<g transform="translate(1139 1755)"><use href="#c108" x="0"/><use href="#c105" x="5"/><use href="#c115" x="10"/><use href="#c116" x="15"/><use href="#c46" x="20"/></g>
<g transform="translate(1136 1763)"><use href="#c100" x="0"/><use href="#c110" x="5"/><use href="#c115" x="10"/><use href="#c119" x="15"/><use href="#c108" x="20"/><use href="#c46" x="25"/></g>
<g transform="translate(1144 1771)"><use href="#c111" x="0"/><use href="#c114" x="5"/><use href="#c103" x="10"/></g>
<g transform="translate(1139 1779)"><use href="#c49" x="0"/><use href="#c104" x="10"/><use href="#c111" x="15"/><use href="#c112" x="20"/></g>
<g transform="translate(1169 1739)"><use href="#c51" x="0"/><use href="#c64" x="5"/></g>
<g transform="translate(1169 1747)"><use href="#c89" x="0"/><use href="#c46" x="5"/></g>
<g transform="translate(1162 1755)"><use href="#c108" x="0"/><use href="#c105" x="5"/><use href="#c115" x="10"/><use href="#c116" x="15"/><use href="#c46" x="20"/></g>
<g transform="translate(1159 1763)"><use href="#c100" x="0"/><use href="#c110" x="5"/><use href="#c115" x="10"/><use href="#c119" x="15"/><use href="#c108" x="20"/><use href="#c46" x="25"/></g>
<g transform="translate(1167 1771)"><use href="#c111" x="0"/><use href="#c114" x="5"/><use href="#c103" x="10"/></g>
<g transform="translate(1159 1779)"><use href="#c53" x="0"/><use href="#c104" x="10"/><use href="#c111" x="15"/><use href="#c112" x="20"/><use href="#c115" x="25"/></g>
<g transform="translate(1192 1739)"><use href="#c52" x="0"/><use href="#c64" x="5"/></g>
<g transform="translate(1192 1747)"><use href="#c51" x="0"/><use href="#c46" x="5"/></g>
<g transform="translate(1185 1755)"><use href="#c108" x="0"/><use href="#c105" x="5"/><use href="#c115" x="10"/><use href="#c116" x="15"/><use href="#c46" x="20"/></g>
<g transform="translate(1182 1763)"><use href="#c100" x="0"/><use href="#c110" x="5"/><use href="#c115" x="10"/><use href="#c119" x="15"/><use href="#c108" x="20"/><use href="#c46" x="25"/></g>
<g transform="translate(1190 1771)"><use href="#c111" x="0"/><use href="#c114" x="5"/><use href="#c103" x="10"/></g>
<g transform="translate(1185 1779)"><use href="#c49" x="0"/><use href="#c104" x="10"/><use href="#c111" x="15"/><use href="#c112" x="20"/></g>
<g transform="translate(1213 1739)"><use href="#c49" x="0"/><use href="#c49" x="5"/><use href="#c64" x="10"/></g>
<g transform="translate(1210 1747)"><use href="#c122" x="0"/><use href="#c101" x="5"/><use href="#c110" x="10"/><use href="#c46" x="15"/></g>
<g transform="translate(1198 1755)"><use href="#c115" x="0"/><use href="#c112" x="5"/><use href="#c97" x="10"/><use href="#c109" x="15"/><use href="#c104" x="20"/><use href="#c97" x="25"/><use href="#c117" x="30"/><use href="#c115" x="35"/><use href="#c46" x="40"/></g>
<g transform="translate(1213 1763)"><use href="#c111" x="0"/><use href="#c114" x="5"/><use href="#c103" x="10"/></g>
<g transform="translate(1205 1771)"><use href="#c50" x="0"/><use href="#c104" x="10"/><use href="#c111" x="15"/><use href="#c112" x="20"/><use href="#c115" x="25"/></g>
<g transform="translate(1238 1739)"><use href="#c50" x="0"/><use href="#c64" x="5"/></g>
<g transform="translate(1231 1747)"><use href="#c112" x="0"/><use href="#c115" x="5"/><use href="#c98" x="10"/><use href="#c108" x="15"/><use href="#c46" x="20"/></g>
<g transform="translate(1223 1755)"><use href="#c115" x="0"/><use href="#c117" x="5"/><use href="#c114" x="10"/><use href="#c114" x="15"/><use href="#c105" x="20"/><use href="#c101" x="25"/><use href="#c108" x="30"/><use href="#c46" x="35"/></g>
<g transform="translate(1236 1763)"><use href="#c99" x="0"/><use href="#c111" x="5"/><use href="#c109" x="10"/></g>
<g transform="translate(1228 1771)"><use href="#c52" x="0"/><use href="#c104" x="10"/><use href="#c111" x="15"/><use href="#c112" x="20"/><use href="#c115" x="25"/></g>
<g transform="translate(1260 1739)"><use href="#c50" x="0"/><use href="#c64" x="5"/></g>
<g transform="translate(1255 1747)"><use href="#c105" x="0"/><use href="#c112" x="5"/><use href="#c115" x="10"/><use href="#c46" x="15"/></g>
<g transform="translate(1235 1755)"><use href="#c119" x="0"/><use href="#c104" x="5"/><use href="#c105" x="10"/><use href="#c116" x="15"/><use href="#c101" x="20"/><use href="#c108" x="25"/><use href="#c105" x="30"/><use href="#c115" x="35"/><use href="#c116" x="40"/><use href="#c101" x="45"/><use href="#c100" x="50"/><use href="#c46" x="55"/></g>
<g transform="translate(1258 1763)"><use href="#c111" x="0"/><use href="#c114" x="5"/><use href="#c103" x="10"/></g>
<g transform="translate(1253 1771)"><use href="#c49" x="0"/><use href="#c104" x="10"/><use href="#c111" x="15"/><use href="#c112" x="20"/></g>
<g transform="translate(1283 1739)"><use href="#c52" x="0"/><use href="#c64" x="5"/></g>
<g transform="translate(1283 1747)"><use href="#c89" x="0"/><use href="#c46" x="5"/></g>
<g transform="translate(1276 1755)"><use href="#c108" x="0"/><use href="#c105" x="5"/><use href="#c115" x="10"/><use href="#c116" x="15"/><use href="#c46" x="20"/></g>
<g transform="translate(1273 1763)"><use href="#c100" x="0"/><use href="#c110" x="5"/><use href="#c115" x="10"/><use href="#c119" x="15"/><use href="#c108" x="20"/><use href="#c46" x="25"/></g>
<g transform="translate(1281 1771)"><use href="#c111" x="0"/><use href="#c114" x="5"/><use href="#c103" x="10"/></g>
<g transform="translate(1276 1779)"><use href="#c49" x="0"/><use href="#c104" x="10"/><use href="#c111" x="15"/><use href="#c112" x="20"/></g>
<g transform="translate(1306 1739)"><use href="#c51" x="0"/><use href="#c64" x="5"/></g>
<g transform="translate(1306 1747)"><use href="#c48" x="0"/><use href="#c46" x="5"/></g>
<g transform="translate(1299 1755)"><use href="#c108" x="0"/><use href="#c105" x="5"/><use href="#c115" x="10"/><use href="#c116" x="15"/><use href="#c46" x="20"/></g>
<g transform="translate(1296 1763)"><use href="#c100" x="0"/><use href="#c110" x="5"/><use href="#c115" x="10"/><use href="#c119" x="15"/><use href="#c108" x="20"/><use href="#c46" x="25"/></g>
<g transform="translate(1304 1771)"><use href="#c111" x="0"/><use href="#c114" x="5"/><use href="#c103" x="10"/></g>
<g transform="translate(1299 1779)"><use href="#c49" x="0"/><use href="#c104" x="10"/><use href="#c111" x="15"/><use href="#c112" x="20"/></g>
<g transform="translate(1329 1739)"><use href="#c50" x="0"/><use href="#c64" x="5"/></g>
<g transform="translate(1322 1747)"><use href="#c108" x="0"/><use href="#c105" x="5"/><use href="#c115" x="10"/><use href="#c116" x="15"/><use href="#c46" x="20"/></g>
<g transform="translate(1319 1755)"><use href="#c100" x="0"/><use href="#c110" x="5"/><use href="#c115" x="10"/><use href="#c119" x="15"/><use href="#c108" x="20"/><use href="#c46" x="25"/></g>
<g transform="translate(1327 1763)"><use href="#c111" x="0"/><use href="#c114" x="5"/><use href="#c103" x="10"/></g>
<g transform="translate(1319 1771)"><use href="#c52" x="0"/><use href="#c104" x="10"/><use href="#c111" x="15"/><use href="#c112" x="20"/><use href="#c115" x="25"/></g>
<g transform="translate(1352 1739)"><use href="#c52" x="0"/><use href="#c64" x="5"/></g>
<g transform="translate(1352 1747)"><use href="#c50" x="0"/><use href="#c46" x="5"/></g>
<g transform="translate(1345 1755)"><use href="#c108" x="0"/><use href="#c105" x="5"/><use href="#c115" x="10"/><use href="#c116" x="15"/><use href="#c46" x="20"/></g>
<g transform="translate(1342 1763)"><use href="#c100" x="0"/><use href="#c110" x="5"/><use href="#c115" x="10"/><use href="#c119" x="15"/><use href="#c108" x="20"/><use href="#c46" x="25"/></g>
<g transform="translate(1350 1771)"><use href="#c111" x="0"/><use href="#c114" x="5"/><use href="#c103" x="10"/></g>
<g transform="translate(1345 1779)"><use href="#c49" x="0"/><use href="#c104" x="10"/><use href="#c111" x="15"/><use href="#c112" x="20"/></g>
<g transform="translate(1370 1739)"><use href="#c110" x="0"/><use href="#c111" x="5"/><use href="#c110" x="10"/><use href="#c101" x="15"/></g>
<g transform="translate(1368 1747)"><use href="#c49" x="0"/><use href="#c104" x="10"/><use href="#c111" x="15"/><use href="#c112" x="20"/></g>
<g transform="translate(1396 1739)"><use href="#c50" x="0"/><use href="#c48" x="5"/><use href="#c64" x="10"/></g>
<g transform="translate(1398 1747)"><use href="#c48" x="0"/><use href="#c46" x="5"/></g>
<g transform="translate(1391 1755)"><use href="#c108" x="0"/><use href="#c105" x="5"/><use href="#c115" x="10"/><use href="#c116" x="15"/><use href="#c46" x="20"/></g>
<g transform="translate(1388 1763)"><use href="#c100" x="0"/><use href="#c110" x="5"/><use href="#c115" x="10"/><use href="#c119" x="15"/><use href="#c108" x="20"/><use href="#c46" x="25"/></g>
<g transform="translate(1396 1771)"><use href="#c111" x="0"/><use href="#c114" x="5"/><use href="#c103" x="10"/></g>
<g transform="translate(1391 1779)"><use href="#c49" x="0"/><use href="#c104" x="10"/><use href="#c111" x="15"/><use href="#c112" x="20"/></g>
<g transform="translate(1418 1739)"><use href="#c50" x="0"/><use href="#c48" x="5"/><use href="#c64" x="10"/></g>
<g transform="translate(1420 1747)"><use href="#c89" x="0"/><use href="#c46" x="5"/></g>
<g transform="translate(1413 1755)"><use href="#c108" x="0"/><use href="#c105" x="5"/><use href="#c115" x="10"/><use href="#c116" x="15"/><use href="#c46" x="20"/></g>
<g transform="translate(1410 1763)"><use href="#c100" x="0"/><use href="#c110" x="5"/><use href="#c115" x="10"/><use href="#c119" x="15"/><use href="#c108" x="20"/><use href="#c46" x="25"/></g>
<g transform="translate(1418 1771)"><use href="#c111" x="0"/><use href="#c114" x="5"/><use href="#c103" x="10"/></g>
<g transform="translate(1413 1779)"><use href="#c49" x="0"/><use href="#c104" x="10"/><use href="#c111" x="15"/><use href="#c112" x="20"/></g>
<g transform="translate(1441 1739)"><use href="#c49" x="0"/><use href="#c48" x="5"/><use href="#c64" x="10"/></g>
<g transform="translate(1443 1747)"><use href="#c48" x="0"/><use href="#c46" x="5"/></g>
<g transform="translate(1436 1755)"><use href="#c108" x="0"/><use href="#c105" x="5"/><use href="#c115" x="10"/><use href="#c116" x="15"/><use href="#c46" x="20"/></g>
<g transform="translate(1433 1763)"><use href="#c100" x="0"/><use href="#c110" x="5"/><use href="#c115" x="10"/><use href="#c119" x="15"/><use href="#c108" x="20"/><use href="#c46" x="25"/></g>
<g transform="translate(1441 1771)"><use href="#c111" x="0"/><use href="#c114" x="5"/><use href="#c103" x="10"/></g>
<g transform="translate(1436 1779)"><use href="#c49" x="0"/><use href="#c104" x="10"/><use href="#c111" x="15"/><use href="#c112" x="20"/></g>
<g transform="translate(1464 1739)"><use href="#c49" x="0"/><use href="#c48" x="5"/><use href="#c64" x="10"/></g>
<g transform="translate(1461 1747)"><use href="#c122" x="0"/><use href="#c101" x="5"/><use href="#c110" x="10"/><use href="#c46" x="15"/></g>
<g transform="translate(1449 1755)"><use href="#c115" x="0"/><use href="#c112" x="5"/><use href="#c97" x="10"/><use href="#c109" x="15"/><use href="#c104" x="20"/><use href="#c97" x="25"/><use href="#c117" x="30"/><use href="#c115" x="35"/><use href="#c46" x="40"/></g>
<g transform="translate(1464 1763)"><use href="#c111" x="0"/><use href="#c114" x="5"/><use href="#c103" x="10"/></g>
<g transform="translate(1459 1771)"><use href="#c49" x="0"/><use href="#c104" x="10"/><use href="#c111" x="15"/><use href="#c112" x="20"/></g>
<g transform="translate(1487 1739)"><use href="#c49" x="0"/><use href="#c48" x="5"/><use href="#c64" x="10"/></g>
<g transform="translate(1489 1747)"><use href="#c89" x="0"/><use href="#c46" x="5"/></g>
<g transform="translate(1482 1755)"><use href="#c108" x="0"/><use href="#c105" x="5"/><use href="#c115" x="10"/><use href="#c116" x="15"/><use href="#c46" x="20"/></g>
<g transform="translate(1479 1763)"><use href="#c100" x="0"/><use href="#c110" x="5"/><use href="#c115" x="10"/><use href="#c119" x="15"/><use href="#c108" x="20"/><use href="#c46" x="25"/></g>
<g transform="translate(1487 1771)"><use href="#c111" x="0"/><use href="#c114" x="5"/><use href="#c103" x="10"/></g>
<g transform="translate(1482 1779)"><use href="#c49" x="0"/><use href="#c104" x="10"/><use href="#c111" x="15"/><use href="#c112" x="20"/></g>
<g transform="translate(1512 1739)"><use href="#c53" x="0"/><use href="#c64" x="5"/></g>
<g transform="translate(1512 1747)"><use href="#c48" x="0"/><use href="#c46" x="5"/></g>
<g transform="translate(1505 1755)"><use href="#c108" x="0"/><use href="#c105" x="5"/><use href="#c115" x="10"/><use href="#c116" x="15"/><use href="#c46" x="20"/></g>
<g transform="translate(1502 1763)"><use href="#c100" x="0"/><use href="#c110" x="5"/><use href="#c115" x="10"/><use href="#c119" x="15"/><use href="#c108" x="20"/><use href="#c46" x="25"/></g>
<g transform="translate(1510 1771)"><use href="#c111" x="0"/><use href="#c114" x="5"/><use href="#c103" x="10"/></g>
<g transform="translate(1502 1779)"><use href="#c52" x="0"/><use href="#c104" x="10"/><use href="#c111" x="15"/><use href="#c112" x="20"/><use href="#c115" x="25"/></g>
<g transform="translate(1535 1739)"><use href="#c57" x="0"/><use href="#c64" x="5"/></g>
<g transform="translate(1535 1747)"><use href="#c50" x="0"/><use href="#c46" x="5"/></g>
<g transform="translate(1528 1755)"><use href="#c108" x="0"/><use href="#c105" x="5"/><use href="#c115" x="10"/><use href="#c116" x="15"/><use href="#c46" x="20"/></g>
<g transform="translate(1525 1763)"><use href="#c100" x="0"/><use href="#c110" x="5"/><use href="#c115" x="10"/><use href="#c119" x="15"/><use href="#c108" x="20"/><use href="#c46" x="25"/></g>
<g transform="translate(1533 1771)"><use href="#c111" x="0"/><use href="#c114" x="5"/><use href="#c103" x="10"/></g>
<g transform="translate(1525 1779)"><use href="#c52" x="0"/><use href="#c104" x="10"/><use href="#c111" x="15"/><use href="#c112" x="20"/><use href="#c115" x="25"/></g>
<g transform="translate(1557 1739)"><use href="#c50" x="0"/><use href="#c64" x="5"/></g>
<g transform="translate(1552 1747)"><use href="#c105" x="0"/><use href="#c112" x="5"/><use href="#c115" x="10"/><use href="#c46" x="15"/></g>
<g transform="translate(1532 1755)"><use href="#c119" x="0"/><use href="#c104" x="5"/><use href="#c105" x="10"/><use href="#c116" x="15"/><use href="#c101" x="20"/><use href="#c108" x="25"/><use href="#c105" x="30"/><use href="#c115" x="35"/><use href="#c116" x="40"/><use href="#c101" x="45"/><use href="#c100" x="50"/><use href="#c46" x="55"/></g>
<g transform="translate(1555 1763)"><use href="#c111" x="0"/><use href="#c114" x="5"/><use href="#c103" x="10"/></g>
<g transform="translate(1547 1771)"><use href="#c52" x="0"/><use href="#c104" x="10"/><use href="#c111" x="15"/><use href="#c112" x="20"/><use href="#c115" x="25"/></g>
<g transform="translate(1575 1739)"><use href="#c110" x="0"/><use href="#c111" x="5"/><use href="#c110" x="10"/><use href="#c101" x="15"/></g>
<g transform="translate(1570 1747)"><use href="#c53" x="0"/><use href="#c104" x="10"/><use href="#c111" x="15"/><use href="#c112" x="20"/><use href="#c115" x="25"/></g>
<g transform="translate(1601 1739)"><use href="#c49" x="0"/><use href="#c49" x="5"/><use href="#c64" x="10"/></g>
<g transform="translate(1603 1747)"><use href="#c89" x="0"/><use href="#c46" x="5"/></g>
<g transform="translate(1596 1755)"><use href="#c108" x="0"/><use href="#c105" x="5"/><use href="#c115" x="10"/><use href="#c116" x="15"/><use href="#c46" x="20"/></g>
<g transform="translate(1593 1763)"><use href="#c100" x="0"/><use href="#c110" x="5"/><use href="#c115" x="10"/><use href="#c119" x="15"/><use href="#c108" x="20"/><use href="#c46" x="25"/></g>
<g transform="translate(1601 1771)"><use href="#c111" x="0"/><use href="#c114" x="5"/><use href="#c103" x="10"/></g>
<g transform="translate(1593 1779)"><use href="#c50" x="0"/><use href="#c104" x="10"/><use href="#c111" x="15"/><use href="#c112" x="20"/><use href="#c115" x="25"/></g>
<g transform="translate(1626 1739)"><use href="#c53" x="0"/><use href="#c64" x="5"/></g>
<g transform="translate(1626 1747)"><use href="#c89" x="0"/><use href="#c46" x="5"/></g>
<g transform="translate(1619 1755)"><use href="#c108" x="0"/><use href="#c105" x="5"/><use href="#c115" x="10"/><use href="#c116" x="15"/><use href="#c46" x="20"/></g>
<g transform="translate(1616 1763)"><use href="#c100" x="0"/><use href="#c110" x="5"/><use href="#c115" x="10"/><use href="#c119" x="15"/><use href="#c108" x="20"/><use href="#c46" x="25"/></g>
<g transform="translate(1624 1771)"><use href="#c111" x="0"/><use href="#c114" x="5"/><use href="#c103" x="10"/></g>
<g transform="translate(1616 1779)"><use href="#c52" x="0"/><use href="#c104" x="10"/><use href="#c111" x="15"/><use href="#c112" x="20"/><use href="#c115" x="25"/></g>
<g transform="translate(1649 1739)"><use href="#c51" x="0"/><use href="#c64" x="5"/></g>
<g transform="translate(1649 1747)"><use href="#c89" x="0"/><use href="#c46" x="5"/></g>
<g transform="translate(1642 1755)"><use href="#c108" x="0"/><use href="#c105" x="5"/><use href="#c115" x="10"/><use href="#c116" x="15"/><use href="#c46" x="20"/></g>
<g transform="translate(1639 1763)"><use href="#c100" x="0"/><use href="#c110" x="5"/><use href="#c115" x="10"/><use href="#c119" x="15"/><use href="#c108" x="20"/><use href="#c46" x="25"/></g>
<g transform="translate(1647 1771)"><use href="#c111" x="0"/><use href="#c114" x="5"/><use href="#c103" x="10"/></g>
<g transform="translate(1642 1779)"><use href="#c49" x="0"/><use href="#c104" x="10"/><use href="#c111" x="15"/><use href="#c112" x="20"/></g>
<g transform="translate(1672 1739)"><use href="#c51" x="0"/><use href="#c64" x="5"/></g>
<g transform="translate(1672 1747)"><use href="#c49" x="0"/><use href="#c46" x="5"/></g>
<g transform="translate(1665 1755)"><use href="#c108" x="0"/><use href="#c105" x="5"/><use href="#c115" x="10"/><use href="#c116" x="15"/><use href="#c46" x="20"/></g>
<g transform="translate(1662 1763)"><use href="#c100" x="0"/><use href="#c110" x="5"/><use href="#c115" x="10"/><use href="#c119" x="15"/><use href="#c108" x="20"/><use href="#c46" x="25"/></g>
<g transform="translate(1670 1771)"><use href="#c111" x="0"/><use href="#c114" x="5"/><use href="#c103" x="10"/></g>
<g transform="translate(1662 1779)"><use href="#c51" x="0"/><use href="#c104" x="10"/><use href="#c111" x="15"/><use href="#c112" x="20"/><use href="#c115" x="25"/></g>
<g transform="translate(1694 1739)"><use href="#c49" x="0"/><use href="#c64" x="5"/></g>
<g transform="translate(1687 1747)"><use href="#c108" x="0"/><use href="#c105" x="5"/><use href="#c115" x="10"/><use href="#c116" x="15"/><use href="#c46" x="20"/></g>
<g transform="translate(1684 1755)"><use href="#c100" x="0"/><use href="#c110" x="5"/><use href="#c115" x="10"/><use href="#c119" x="15"/><use href="#c108" x="20"/><use href="#c46" x="25"/></g>
<g transform="translate(1692 1763)"><use href="#c111" x="0"/><use href="#c114" x="5"/><use href="#c103" x="10"/></g>
<g transform="translate(1684 1771)"><use href="#c52" x="0"/><use href="#c104" x="10"/><use href="#c111" x="15"/><use href="#c112" x="20"/><use href="#c115" x="25"/></g>
<g transform="translate(1712 1739)"><use href="#c110" x="0"/><use href="#c111" x="5"/><use href="#c110" x="10"/><use href="#c101" x="15"/></g>
<g transform="translate(1707 1747)"><use href="#c52" x="0"/><use href="#c104" x="10"/><use href="#c111" x="15"/><use href="#c112" x="20"/><use href="#c115" x="25"/></g>
<g transform="translate(1740 1739)"><use href="#c48" x="0"/><use href="#c64" x="5"/></g>
<g transform="translate(1733 1747)"><use href="#c108" x="0"/><use href="#c105" x="5"/><use href="#c115" x="10"/><use href="#c116" x="15"/><use href="#c46" x="20"/></g>
<g transform="translate(1730 1755)"><use href="#c100" x="0"/><use href="#c110" x="5"/><use href="#c115" x="10"/><use href="#c119" x="15"/><use href="#c108" x="20"/><use href="#c46" x="25"/></g>
<g transform="translate(1738 1763)"><use href="#c111" x="0"/><use href="#c114" x="5"/><use href="#c103" x="10"/></g>
<g transform="translate(1733 1771)"><use href="#c49" x="0"/><use href="#c104" x="10"/><use href="#c111" x="15"/><use href="#c112" x="20"/></g>
<g transform="translate(1763 1739)"><use href="#c57" x="0"/><use href="#c64" x="5"/></g>
<g transform="translate(1763 1747)"><use href="#c89" x="0"/><use href="#c46" x="5"/></g>
<g transform="translate(1756 1755)"><use href="#c108" x="0"/><use href="#c105" x="5"/><use href="#c115" x="10"/><use href="#c116" x="15"/><use href="#c46" x="20"/></g>
<g transform="translate(1753 1763)"><use href="#c100" x="0"/><use href="#c110" x="5"/><use href="#c115" x="10"/><use href="#c119" x="15"/><use href="#c108" x="20"/><use href="#c46" x="25"/></g>
<g transform="translate(1761 1771)"><use href="#c111" x="0"/><use href="#c114" x="5"/><use href="#c103" x="10"/></g>
<g transform="translate(1753 1779)"><use href="#c52" x="0"/><use href="#c104" x="10"/><use href="#c111" x="15"/><use href="#c112" x="20"/><use href="#c115" x="25"/></g>
<g transform="translate(1786 1739)"><use href="#c53" x="0"/><use href="#c64" x="5"/></g>
<g transform="translate(1786 1747)"><use href="#c49" x="0"/><use href="#c46" x="5"/></g>
<g transform="translate(1779 1755)"><use href="#c108" x="0"/><use href="#c105" x="5"/><use href="#c115" x="10"/><use href="#c116" x="15"/><use href="#c46" x="20"/></g>
<g transform="translate(1776 1763)"><use href="#c100" x="0"/><use href="#c110" x="5"/><use href="#c115" x="10"/><use href="#c119" x="15"/><use href="#c108" x="20"/><use href="#c46" x="25"/></g>
<g transform="translate(1784 1771)"><use href="#c111" x="0"/><use href="#c114" x="5"/><use href="#c103" x="10"/></g>
<g transform="translate(1779 1779)"><use href="#c49" x="0"/><use href="#c104" x="10"/><use href="#c111" x="15"/><use href="#c112" x="20"/></g>
<g transform="translate(1807 1739)"><use href="#c49" x="0"/><use href="#c48" x="5"/><use href="#c64" x="10"/></g>
<g transform="translate(1804 1747)"><use href="#c122" x="0"/><use href="#c101" x="5"/><use href="#c110" x="10"/><use href="#c46" x="15"/></g>
<g transform="translate(1792 1755)"><use href="#c115" x="0"/><use href="#c112" x="5"/><use href="#c97" x="10"/><use href="#c109" x="15"/><use href="#c104" x="20"/><use href="#c97" x="25"/><use href="#c117" x="30"/><use href="#c115" x="35"/><use href="#c46" x="40"/></g>
<g transform="translate(1807 1763)"><use href="#c111" x="0"/><use href="#c114" x="5"/><use href="#c103" x="10"/></g>
<g transform="translate(1799 1771)"><use href="#c50" x="0"/><use href="#c104" x="10"/><use href="#c111" x="15"/><use href="#c112" x="20"/><use href="#c115" x="25"/></g>
<g transform="translate(1829 1739)"><use href="#c49" x="0"/><use href="#c49" x="5"/><use href="#c64" x="10"/></g>
<g transform="translate(1831 1747)"><use href="#c50" x="0"/><use href="#c46" x="5"/></g>
<g transform="translate(1824 1755)"><use href="#c108" x="0"/><use href="#c105" x="5"/><use href="#c115" x="10"/><use href="#c116" x="15"/><use href="#c46" x="20"/></g>
<g transform="translate(1821 1763)"><use href="#c100" x="0"/><use href="#c110" x="5"/><use href="#c115" x="10"/><use href="#c119" x="15"/><use href="#c108" x="20"/><use href="#c46" x="25"/></g>
<g transform="translate(1829 1771)"><use href="#c111" x="0"/><use href="#c114" x="5"/><use href="#c103" x="10"/></g>
<g transform="translate(1821 1779)"><use href="#c50" x="0"/><use href="#c104" x="10"/><use href="#c111" x="15"/><use href="#c112" x="20"/><use href="#c115" x="25"/></g>
<g transform="translate(1854 1739)"><use href="#c50" x="0"/><use href="#c64" x="5"/></g>
<g transform="translate(1849 1747)"><use href="#c105" x="0"/><use href="#c112" x="5"/><use href="#c115" x="10"/><use href="#c46" x="15"/></g>
<g transform="translate(1824 1755)"><use href="#c98" x="0"/><use href="#c97" x="5"/><use href="#c99" x="10"/><use href="#c107" x="15"/><use href="#c115" x="20"/><use href="#c99" x="25"/><use href="#c97" x="30"/><use href="#c116" x="35"/><use href="#c116" x="40"/><use href="#c101" x="45"/><use href="#c114" x="50"/><use href="#c101" x="55"/><use href="#c114" x="60"/><use href="#c46" x="65"/></g>
<g transform="translate(1852 1763)"><use href="#c111" x="0"/><use href="#c114" x="5"/><use href="#c103" x="10"/></g>
<g transform="translate(1844 1771)"><use href="#c50" x="0"/><use href="#c104" x="10"/><use href="#c111" x="15"/><use href="#c112" x="20"/><use href="#c115" x="25"/></g>
<g transform="translate(1875 1739)"><use href="#c49" x="0"/><use href="#c49" x="5"/><use href="#c64" x="10"/></g>
<g transform="translate(1872 1747)"><use href="#c122" x="0"/><use href="#c101" x="5"/><use href="#c110" x="10"/><use href="#c46" x="15"/></g>
<g transform="translate(1860 1755)"><use href="#c115" x="0"/><use href="#c112" x="5"/><use href="#c97" x="10"/><use href="#c109" x="15"/><use href="#c104" x="20"/><use href="#c97" x="25"/><use href="#c117" x="30"/><use href="#c115" x="35"/><use href="#c46" x="40"/></g>
<g transform="translate(1875 1763)"><use href="#c111" x="0"/><use href="#c114" x="5"/><use href="#c103" x="10"/></g>
<g transform="translate(1867 1771)"><use href="#c51" x="0"/><use href="#c104" x="10"/><use href="#c111" x="15"/><use href="#c112" x="20"/><use href="#c115" x="25"/></g>
<g transform="translate(1900 1739)"><use href="#c53" x="0"/><use href="#c64" x="5"/></g>
<g transform="translate(1900 1747)"><use href="#c89" x="0"/><use href="#c46" x="5"/></g>
<g transform="translate(1893 1755)"><use href="#c108" x="0"/><use href="#c105" x="5"/><use href="#c115" x="10"/><use href="#c116" x="15"/><use href="#c46" x="20"/></g>
<g transform="translate(1890 1763)"><use href="#c100" x="0"/><use href="#c110" x="5"/><use href="#c115" x="10"/><use href="#c119" x="15"/><use href="#c108" x="20"/><use href="#c46" x="25"/></g>
<g transform="translate(1898 1771)"><use href="#c111" x="0"/><use href="#c114" x="5"/><use href="#c103" x="10"/></g>
<g transform="translate(1893 1779)"><use href="#c49" x="0"/><use href="#c104" x="10"/><use href="#c111" x="15"/><use href="#c112" x="20"/></g>
<g transform="translate(1918 1739)"><use href="#c110" x="0"/><use href="#c111" x="5"/><use href="#c110" x="10"/><use href="#c101" x="15"/></g>
<g transform="translate(1913 1747)"><use href="#c51" x="0"/><use href="#c104" x="10"/><use href="#c111" x="15"/><use href="#c112" x="20"/><use href="#c115" x="25"/></g>
<g transform="translate(1946 1739)"><use href="#c50" x="0"/><use href="#c64" x="5"/></g>
<g transform="translate(1941 1747)"><use href="#c105" x="0"/><use href="#c112" x="5"/><use href="#c115" x="10"/><use href="#c46" x="15"/></g>
<g transform="translate(1921 1755)"><use href="#c119" x="0"/><use href="#c104" x="5"/><use href="#c105" x="10"/><use href="#c116" x="15"/><use href="#c101" x="20"/><use href="#c108" x="25"/><use href="#c105" x="30"/><use href="#c115" x="35"/><use href="#c116" x="40"/><use href="#c101" x="45"/><use href="#c100" x="50"/><use href="#c46" x="55"/></g>
<g transform="translate(1944 1763)"><use href="#c111" x="0"/><use href="#c114" x="5"/><use href="#c103" x="10"/></g>
<g transform="translate(1936 1771)"><use href="#c50" x="0"/><use href="#c104" x="10"/><use href="#c111" x="15"/><use href="#c112" x="20"/><use href="#c115" x="25"/></g>
<g transform="translate(1969 1739)"><use href="#c51" x="0"/><use href="#c64" x="5"/></g>
<g transform="translate(1969 1747)"><use href="#c49" x="0"/><use href="#c46" x="5"/></g>
<g transform="translate(1962 1755)"><use href="#c108" x="0"/><use href="#c105" x="5"/><use href="#c115" x="10"/><use href="#c116" x="15"/><use href="#c46" x="20"/></g>
<g transform="translate(1959 1763)"><use href="#c100" x="0"/><use href="#c110" x="5"/><use href="#c115" x="10"/><use href="#c119" x="15"/><use href="#c108" x="20"/><use href="#c46" x="25"/></g>
<g transform="translate(1967 1771)"><use href="#c111" x="0"/><use href="#c114" x="5"/><use href="#c103" x="10"/></g>
<g transform="translate(1962 1779)"><use href="#c49" x="0"/><use href="#c104" x="10"/><use href="#c111" x="15"/><use href="#c112" x="20"/></g>
<g transform="translate(1991 1739)"><use href="#c53" x="0"/><use href="#c64" x="5"/></g>
<g transform="translate(1991 1747)"><use href="#c49" x="0"/><use href="#c46" x="5"/></g>
<g transform="translate(1984 1755)"><use href="#c108" x="0"/><use href="#c105" x="5"/><use href="#c115" x="10"/><use href="#c116" x="15"/><use href="#c46" x="20"/></g>
<g transform="translate(1981 1763)"><use href="#c100" x="0"/><use href="#c110" x="5"/><use href="#c115" x="10"/><use href="#c119" x="15"/><use href="#c108" x="20"/><use href="#c46" x="25"/></g>
<g transform="translate(1989 1771)"><use href="#c111" x="0"/><use href="#c114" x="5"/><use href="#c103" x="10"/></g>
<g transform="translate(1981 1779)"><use href="#c52" x="0"/><use href="#c104" x="10"/><use href="#c111" x="15"/><use href="#c112" x="20"/><use href="#c115" x="25"/></g>
<g transform="translate(2014 1739)"><use href="#c51" x="0"/><use href="#c64" x="5"/></g>
<g transform="translate(2007 1747)"><use href="#c108" x="0"/><use href="#c105" x="5"/><use href="#c115" x="10"/><use href="#c116" x="15"/><use href="#c46" x="20"/></g>
<g transform="translate(2004 1755)"><use href="#c100" x="0"/><use href="#c110" x="5"/><use href="#c115" x="10"/><use href="#c119" x="15"/><use href="#c108" x="20"/><use href="#c46" x="25"/></g>
<g transform="translate(2012 1763)"><use href="#c111" x="0"/><use href="#c114" x="5"/><use href="#c103" x="10"/></g>
<g transform="translate(2007 1771)"><use href="#c49" x="0"/><use href="#c104" x="10"/><use href="#c111" x="15"/><use href="#c112" x="20"/></g>
<g transform="translate(2037 1739)"><use href="#c53" x="0"/><use href="#c64" x="5"/></g>
<g transform="translate(2037 1747)"><use href="#c48" x="0"/><use href="#c46" x="5"/></g>
<g transform="translate(2030 1755)"><use href="#c108" x="0"/><use href="#c105" x="5"/><use href="#c115" x="10"/><use href="#c116" x="15"/><use href="#c46" x="20"/></g>
<g transform="translate(2027 1763)"><use href="#c100" x="0"/><use href="#c110" x="5"/><use href="#c115" x="10"/><use href="#c119" x="15"/><use href="#c108" x="20"/><use href="#c46" x="25"/></g>
<g transform="translate(2035 1771)"><use href="#c111" x="0"/><use href="#c114" x="5"/><use href="#c103" x="10"/></g>
<g transform="translate(2030 1779)"><use href="#c49" x="0"/><use href="#c104" x="10"/><use href="#c111" x="15"/><use href="#c112" x="20"/></g>
<g transform="translate(2060 1739)"><use href="#c49" x="0"/><use href="#c64" x="5"/></g>
<g transform="translate(2053 1747)"><use href="#c108" x="0"/><use href="#c105" x="5"/><use href="#c115" x="10"/><use href="#c116" x="15"/><use href="#c46" x="20"/></g>
<g transform="translate(2050 1755)"><use href="#c100" x="0"/><use href="#c110" x="5"/><use href="#c115" x="10"/><use href="#c119" x="15"/><use href="#c108" x="20"/><use href="#c46" x="25"/></g>
<g transform="translate(2058 1763)"><use href="#c111" x="0"/><use href="#c114" x="5"/><use href="#c103" x="10"/></g>
<g transform="translate(2053 1771)"><use href="#c49" x="0"/><use href="#c104" x="10"/><use href="#c111" x="15"/><use href="#c112" x="20"/></g>
<g transform="translate(2081 1739)"><use href="#c49" x="0"/><use href="#c52" x="5"/><use href="#c64" x="10"/></g>
<g transform="translate(2083 1747)"><use href="#c50" x="0"/><use href="#c46" x="5"/></g>
<g transform="translate(2076 1755)"><use href="#c108" x="0"/><use href="#c105" x="5"/><use href="#c115" x="10"/><use href="#c116" x="15"/><use href="#c46" x="20"/></g>
<g transform="translate(2073 1763)"><use href="#c100" x="0"/><use href="#c110" x="5"/><use href="#c115" x="10"/><use href="#c119" x="15"/><use href="#c108" x="20"/><use href="#c46" x="25"/></g>
<g transform="translate(2081 1771)"><use href="#c111" x="0"/><use href="#c114" x="5"/><use href="#c103" x="10"/></g>
<g transform="translate(2076 1779)"><use href="#c49" x="0"/><use href="#c104" x="10"/><use href="#c111" x="15"/><use href="#c112" x="20"/></g>
<g transform="translate(2106 1739)"><use href="#c53" x="0"/><use href="#c64" x="5"/></g>
<g transform="translate(2106 1747)"><use href="#c49" x="0"/><use href="#c46" x="5"/></g>
<g transform="translate(2099 1755)"><use href="#c108" x="0"/><use href="#c105" x="5"/><use href="#c115" x="10"/><use href="#c116" x="15"/><use href="#c46" x="20"/></g>
<g transform="translate(2096 1763)"><use href="#c100" x="0"/><use href="#c110" x="5"/><use href="#c115" x="10"/><use href="#c119" x="15"/><use href="#c108" x="20"/><use href="#c46" x="25"/></g>
<g transform="translate(2104 1771)"><use href="#c111" x="0"/><use href="#c114" x="5"/><use href="#c103" x="10"/></g>
<g transform="translate(2096 1779)"><use href="#c51" x="0"/><use href="#c104" x="10"/><use href="#c111" x="15"/><use href="#c112" x="20"/><use href="#c115" x="25"/></g>
<g transform="translate(2123 1739)"><use href="#c110" x="0"/><use href="#c111" x="5"/><use href="#c110" x="10"/><use href="#c101" x="15"/></g>
<g transform="translate(2118 1747)"><use href="#c50" x="0"/><use href="#c104" x="10"/><use href="#c111" x="15"/><use href="#c112" x="20"/><use href="#c115" x="25"/></g>
<g transform="translate(2149 1739)"><use href="#c49" x="0"/><use href="#c52" x="5"/><use href="#c64" x="10"/></g>
<g transform="translate(2151 1747)"><use href="#c89" x="0"/><use href="#c46" x="5"/></g>
<g transform="translate(2144 1755)"><use href="#c108" x="0"/><use href="#c105" x="5"/><use href="#c115" x="10"/><use href="#c116" x="15"/><use href="#c46" x="20"/></g>
<g transform="translate(2141 1763)"><use href="#c100" x="0"/><use href="#c110" x="5"/><use href="#c115" x="10"/><use href="#c119" x="15"/><use href="#c108" x="20"/><use href="#c46" x="25"/></g>
<g transform="translate(2149 1771)"><use href="#c111" x="0"/><use href="#c114" x="5"/><use href="#c103" x="10"/></g>
<g transform="translate(2144 1779)"><use href="#c49" x="0"/><use href="#c104" x="10"/><use href="#c111" x="15"/><use href="#c112" x="20"/></g>
<g transform="translate(2172 1739)"><use href="#c49" x="0"/><use href="#c49" x="5"/><use href="#c64" x="10"/></g>
<g transform="translate(2169 1747)"><use href="#c122" x="0"/><use href="#c101" x="5"/><use href="#c110" x="10"/><use href="#c46" x="15"/></g>
<g transform="translate(2157 1755)"><use href="#c115" x="0"/><use href="#c112" x="5"/><use href="#c97" x="10"/><use href="#c109" x="15"/><use href="#c104" x="20"/><use href="#c97" x="25"/><use href="#c117" x="30"/><use href="#c115" x="35"/><use href="#c46" x="40"/></g>
<g transform="translate(2172 1763)"><use href="#c111" x="0"/><use href="#c114" x="5"/><use href="#c103" x="10"/></g>
<g transform="translate(2164 1771)"><use href="#c52" x="0"/><use href="#c104" x="10"/><use href="#c111" x="15"/><use href="#c112" x="20"/><use href="#c115" x="25"/></g>
<g transform="translate(2195 1739)"><use href="#c49" x="0"/><use href="#c49" x="5"/><use href="#c64" x="10"/></g>
<g transform="translate(2192 1747)"><use href="#c122" x="0"/><use href="#c101" x="5"/><use href="#c110" x="10"/><use href="#c46" x="15"/></g>
<g transform="translate(2180 1755)"><use href="#c115" x="0"/><use href="#c112" x="5"/><use href="#c97" x="10"/><use href="#c109" x="15"/><use href="#c104" x="20"/><use href="#c97" x="25"/><use href="#c117" x="30"/><use href="#c115" x="35"/><use href="#c46" x="40"/></g>
<g transform="translate(2195 1763)"><use href="#c111" x="0"/><use href="#c114" x="5"/><use href="#c103" x="10"/></g>
<g transform="translate(2187 1771)"><use href="#c54" x="0"/><use href="#c104" x="10"/><use href="#c111" x="15"/><use href="#c112" x="20"/><use href="#c115" x="25"/></g>
<g transform="translate(2220 1739)"><use href="#c49" x="0"/><use href="#c64" x="5"/></g>
<g transform="translate(2213 1747)"><use href="#c108" x="0"/><use href="#c105" x="5"/><use href="#c115" x="10"/><use href="#c116" x="15"/><use href="#c46" x="20"/></g>
<g transform="translate(2210 1755)"><use href="#c100" x="0"/><use href="#c110" x="5"/><use href="#c115" x="10"/><use href="#c119" x="15"/><use href="#c108" x="20"/><use href="#c46" x="25"/></g>
<g transform="translate(2218 1763)"><use href="#c111" x="0"/><use href="#c114" x="5"/><use href="#c103" x="10"/></g>
<g transform="translate(2210 1771)"><use href="#c51" x="0"/><use href="#c104" x="10"/><use href="#c111" x="15"/><use href="#c112" x="20"/><use href="#c115" x="25"/></g>
<g transform="translate(2241 1739)"><use href="#c49" x="0"/><use href="#c49" x="5"/><use href="#c64" x="10"/></g>
<g transform="translate(2243 1747)"><use href="#c89" x="0"/><use href="#c46" x="5"/></g>
<g transform="translate(2236 1755)"><use href="#c108" x="0"/><use href="#c105" x="5"/><use href="#c115" x="10"/><use href="#c116" x="15"/><use href="#c46" x="20"/></g>
<g transform="translate(2233 1763)"><use href="#c100" x="0"/><use href="#c110" x="5"/><use href="#c115" x="10"/><use href="#c119" x="15"/><use href="#c108" x="20"/><use href="#c46" x="25"/></g>
<g transform="translate(2241 1771)"><use href="#c111" x="0"/><use href="#c114" x="5"/><use href="#c103" x="10"/></g>
<g transform="translate(2233 1779)"><use href="#c51" x="0"/><use href="#c104" x="10"/><use href="#c111" x="15"/><use href="#c112" x="20"/><use href="#c115" x="25"/></g>
<g transform="translate(2263 1739)"><use href="#c49" x="0"/><use href="#c53" x="5"/><use href="#c64" x="10"/></g>
<g transform="translate(2265 1747)"><use href="#c48" x="0"/><use href="#c46" x="5"/></g>
<g transform="translate(2258 1755)"><use href="#c108" x="0"/><use href="#c105" x="5"/><use href="#c115" x="10"/><use href="#c116" x="15"/><use href="#c46" x="20"/></g>
<g transform="translate(2255 1763)"><use href="#c100" x="0"/><use href="#c110" x="5"/><use href="#c115" x="10"/><use href="#c119" x="15"/><use href="#c108" x="20"/><use href="#c46" x="25"/></g>
<g transform="translate(2263 1771)"><use href="#c111" x="0"/><use href="#c114" x="5"/><use href="#c103" x="10"/></g>
<g transform="translate(2255 1779)"><use href="#c50" x="0"/><use href="#c104" x="10"/><use href="#c111" x="15"/><use href="#c112" x="20"/><use href="#c115" x="25"/></g>
<g transform="translate(2286 1739)"><use href="#c49" x="0"/><use href="#c48" x="5"/><use href="#c64" x="10"/></g>
<g transform="translate(2283 1747)"><use href="#c122" x="0"/><use href="#c101" x="5"/><use href="#c110" x="10"/><use href="#c46" x="15"/></g>
<g transform="translate(2271 1755)"><use href="#c115" x="0"/><use href="#c112" x="5"/><use href="#c97" x="10"/><use href="#c109" x="15"/><use href="#c104" x="20"/><use href="#c97" x="25"/><use href="#c117" x="30"/><use href="#c115" x="35"/><use href="#c46" x="40"/></g>
<g transform="translate(2286 1763)"><use href="#c111" x="0"/><use href="#c114" x="5"/><use href="#c103" x="10"/></g>
<g transform="translate(2278 1771)"><use href="#c51" x="0"/><use href="#c104" x="10"/><use href="#c111" x="15"/><use href="#c112" x="20"/><use href="#c115" x="25"/></g>
<g transform="translate(2311 1739)"><use href="#c53" x="0"/><use href="#c64" x="5"/></g>
<g transform="translate(2311 1747)"><use href="#c49" x="0"/><use href="#c46" x="5"/></g>
<g transform="translate(2304 1755)"><use href="#c108" x="0"/><use href="#c105" x="5"/><use href="#c115" x="10"/><use href="#c116" x="15"/><use href="#c46" x="20"/></g>
<g transform="translate(2301 1763)"><use href="#c100" x="0"/><use href="#c110" x="5"/><use href="#c115" x="10"/><use href="#c119" x="15"/><use href="#c108" x="20"/><use href="#c46" x="25"/></g>
<g transform="translate(2309 1771)"><use href="#c111" x="0"/><use href="#c114" x="5"/><use href="#c103" x="10"/></g>
<g transform="translate(2301 1779)"><use href="#c50" x="0"/><use href="#c104" x="10"/><use href="#c111" x="15"/><use href="#c112" x="20"/><use href="#c115" x="25"/></g>
<g transform="translate(2332 1739)"><use href="#c49" x="0"/><use href="#c49" x="5"/><use href="#c64" x="10"/></g>
<g transform="translate(2329 1747)"><use href="#c122" x="0"/><use href="#c101" x="5"/><use href="#c110" x="10"/><use href="#c46" x="15"/></g>
<g transform="translate(2317 1755)"><use href="#c115" x="0"/><use href="#c112" x="5"/><use href="#c97" x="10"/><use href="#c109" x="15"/><use href="#c104" x="20"/><use href="#c97" x="25"/><use href="#c117" x="30"/><use href="#c115" x="35"/><use href="#c46" x="40"/></g>
<g transform="translate(2332 1763)"><use href="#c111" x="0"/><use href="#c114" x="5"/><use href="#c103" x="10"/></g>
<g transform="translate(2324 1771)"><use href="#c53" x="0"/><use href="#c104" x="10"/><use href="#c111" x="15"/><use href="#c112" x="20"/><use href="#c115" x="25"/></g>
<g transform="translate(2357 1739)"><use href="#c53" x="0"/><use href="#c64" x="5"/></g>
<g transform="translate(2357 1747)"><use href="#c50" x="0"/><use href="#c46" x="5"/></g>
<g transform="translate(2350 1755)"><use href="#c108" x="0"/><use href="#c105" x="5"/><use href="#c115" x="10"/><use href="#c116" x="15"/><use href="#c46" x="20"/></g>
<g transform="translate(2347 1763)"><use href="#c100" x="0"/><use href="#c110" x="5"/><use href="#c115" x="10"/><use href="#c119" x="15"/><use href="#c108" x="20"/><use href="#c46" x="25"/></g>
<g transform="translate(2355 1771)"><use href="#c111" x="0"/><use href="#c114" x="5"/><use href="#c103" x="10"/></g>
<g transform="translate(2347 1779)"><use href="#c50" x="0"/><use href="#c104" x="10"/><use href="#c111" x="15"/><use href="#c112" x="20"/><use href="#c115" x="25"/></g>
<g transform="translate(2378 1739)"><use href="#c49" x="0"/><use href="#c53" x="5"/><use href="#c64" x="10"/></g>
<g transform="translate(2380 1747)"><use href="#c89" x="0"/><use href="#c46" x="5"/></g>
<g transform="translate(2373 1755)"><use href="#c108" x="0"/><use href="#c105" x="5"/><use href="#c115" x="10"/><use href="#c116" x="15"/><use href="#c46" x="20"/></g>
<g transform="translate(2370 1763)"><use href="#c100" x="0"/><use href="#c110" x="5"/><use href="#c115" x="10"/><use href="#c119" x="15"/><use href="#c108" x="20"/><use href="#c46" x="25"/></g>
<g transform="translate(2378 1771)"><use href="#c111" x="0"/><use href="#c114" x="5"/><use href="#c103" x="10"/></g>
<g transform="translate(2370 1779)"><use href="#c50" x="0"/><use href="#c104" x="10"/><use href="#c111" x="15"/><use href="#c112" x="20"/><use href="#c115" x="25"/></g>
<g transform="translate(2400 1739)"><use href="#c49" x="0"/><use href="#c51" x="5"/><use href="#c64" x="10"/></g>
<g transform="translate(2402 1747)"><use href="#c89" x="0"/><use href="#c46" x="5"/></g>
<g transform="translate(2395 1755)"><use href="#c108" x="0"/><use href="#c105" x="5"/><use href="#c115" x="10"/><use href="#c116" x="15"/><use href="#c46" x="20"/></g>
<g transform="translate(2392 1763)"><use href="#c100" x="0"/><use href="#c110" x="5"/><use href="#c115" x="10"/><use href="#c119" x="15"/><use href="#c108" x="20"/><use href="#c46" x="25"/></g>
<g transform="translate(2400 1771)"><use href="#c111" x="0"/><use href="#c114" x="5"/><use href="#c103" x="10"/></g>
<g transform="translate(2395 1779)"><use href="#c49" x="0"/><use href="#c104" x="10"/><use href="#c111" x="15"/><use href="#c112" x="20"/></g>
<g transform="translate(2425 1739)"><use href="#c54" x="0"/><use href="#c64" x="5"/></g>
<g transform="translate(2425 1747)"><use href="#c50" x="0"/><use href="#c46" x="5"/></g>
<g transform="translate(2418 1755)"><use href="#c108" x="0"/><use href="#c105" x="5"/><use href="#c115" x="10"/><use href="#c116" x="15"/><use href="#c46" x="20"/></g>
<g transform="translate(2415 1763)"><use href="#c100" x="0"/><use href="#c110" x="5"/><use href="#c115" x="10"/><use href="#c119" x="15"/><use href="#c108" x="20"/><use href="#c46" x="25"/></g>
<g transform="translate(2423 1771)"><use href="#c111" x="0"/><use href="#c114" x="5"/><use href="#c103" x="10"/></g>
<g transform="translate(2418 1779)"><use href="#c49" x="0"/><use href="#c104" x="10"/><use href="#c111" x="15"/><use href="#c112" x="20"/></g>
<g transform="translate(2446 1739)"><use href="#c49" x="0"/><use href="#c48" x="5"/><use href="#c64" x="10"/></g>
<g transform="translate(2443 1747)"><use href="#c122" x="0"/><use href="#c101" x="5"/><use href="#c110" x="10"/><use href="#c46" x="15"/></g>
<g transform="translate(2431 1755)"><use href="#c115" x="0"/><use href="#c112" x="5"/><use href="#c97" x="10"/><use href="#c109" x="15"/><use href="#c104" x="20"/><use href="#c97" x="25"/><use href="#c117" x="30"/><use href="#c115" x="35"/><use href="#c46" x="40"/></g>
<g transform="translate(2446 1763)"><use href="#c111" x="0"/><use href="#c114" x="5"/><use href="#c103" x="10"/></g>
<g transform="translate(2438 1771)"><use href="#c52" x="0"/><use href="#c104" x="10"/><use href="#c111" x="15"/><use href="#c112" x="20"/><use href="#c115" x="25"/></g>
<g transform="translate(2471 1739)"><use href="#c53" x="0"/><use href="#c64" x="5"/></g>
<g transform="translate(2471 1747)"><use href="#c89" x="0"/><use href="#c46" x="5"/></g>
<g transform="translate(2464 1755)"><use href="#c108" x="0"/><use href="#c105" x="5"/><use href="#c115" x="10"/><use href="#c116" x="15"/><use href="#c46" x="20"/></g>
<g transform="translate(2461 1763)"><use href="#c100" x="0"/><use href="#c110" x="5"/><use href="#c115" x="10"/><use href="#c119" x="15"/><use href="#c108" x="20"/><use href="#c46" x="25"/></g>
<g transform="translate(2469 1771)"><use href="#c111" x="0"/><use href="#c114" x="5"/><use href="#c103" x="10"/></g>
<g transform="translate(2461 1779)"><use href="#c50" x="0"/><use href="#c104" x="10"/><use href="#c111" x="15"/><use href="#c112" x="20"/><use href="#c115" x="25"/></g>
<g transform="translate(2494 1739)"><use href="#c51" x="0"/><use href="#c64" x="5"/></g>
<g transform="translate(2494 1747)"><use href="#c48" x="0"/><use href="#c46" x="5"/></g>
<g transform="translate(2487 1755)"><use href="#c108" x="0"/><use href="#c105" x="5"/><use href="#c115" x="10"/><use href="#c116" x="15"/><use href="#c46" x="20"/></g>
<g transform="translate(2484 1763)"><use href="#c100" x="0"/><use href="#c110" x="5"/><use href="#c115" x="10"/><use href="#c119" x="15"/><use href="#c108" x="20"/><use href="#c46" x="25"/></g>
<g transform="translate(2492 1771)"><use href="#c111" x="0"/><use href="#c114" x="5"/><use href="#c103" x="10"/></g>
<g transform="translate(2484 1779)"><use href="#c50" x="0"/><use href="#c104" x="10"/><use href="#c111" x="15"/><use href="#c112" x="20"/><use href="#c115" x="25"/></g>
<g transform="translate(2517 1739)"><use href="#c51" x="0"/><use href="#c64" x="5"/></g>
<g transform="translate(2517 1747)"><use href="#c50" x="0"/><use href="#c46" x="5"/></g>
<g transform="translate(2510 1755)"><use href="#c108" x="0"/><use href="#c105" x="5"/><use href="#c115" x="10"/><use href="#c116" x="15"/><use href="#c46" x="20"/></g>
<g transform="translate(2507 1763)"><use href="#c100" x="0"/><use href="#c110" x="5"/><use href="#c115" x="10"/><use href="#c119" x="15"/><use href="#c108" x="20"/><use href="#c46" x="25"/></g>
<g transform="translate(2515 1771)"><use href="#c111" x="0"/><use href="#c114" x="5"/><use href="#c103" x="10"/></g>
<g transform="translate(2510 1779)"><use href="#c49" x="0"/><use href="#c104" x="10"/><use href="#c111" x="15"/><use href="#c112" x="20"/></g>
<g transform="translate(2539 1739)"><use href="#c54" x="0"/><use href="#c64" x="5"/></g>
<g transform="translate(2539 1747)"><use href="#c89" x="0"/><use href="#c46" x="5"/></g>
<g transform="translate(2532 1755)"><use href="#c108" x="0"/><use href="#c105" x="5"/><use href="#c115" x="10"/><use href="#c116" x="15"/><use href="#c46" x="20"/></g>
<g transform="translate(2529 1763)"><use href="#c100" x="0"/><use href="#c110" x="5"/><use href="#c115" x="10"/><use href="#c119" x="15"/><use href="#c108" x="20"/><use href="#c46" x="25"/></g>
<g transform="translate(2537 1771)"><use href="#c111" x="0"/><use href="#c114" x="5"/><use href="#c103" x="10"/></g>
<g transform="translate(2532 1779)"><use href="#c49" x="0"/><use href="#c104" x="10"/><use href="#c111" x="15"/><use href="#c112" x="20"/></g>
<g transform="translate(2562 1739)"><use href="#c48" x="0"/><use href="#c64" x="5"/></g>
<g transform="translate(2555 1747)"><use href="#c108" x="0"/><use href="#c105" x="5"/><use href="#c115" x="10"/><use href="#c116" x="15"/><use href="#c46" x="20"/></g>
<g transform="translate(2552 1755)"><use href="#c100" x="0"/><use href="#c110" x="5"/><use href="#c115" x="10"/><use href="#c119" x="15"/><use href="#c108" x="20"/><use href="#c46" x="25"/></g>
<g transform="translate(2560 1763)"><use href="#c111" x="0"/><use href="#c114" x="5"/><use href="#c103" x="10"/></g>
<g transform="translate(2552 1771)"><use href="#c50" x="0"/><use href="#c104" x="10"/><use href="#c111" x="15"/><use href="#c112" x="20"/><use href="#c115" x="25"/></g>
<g transform="translate(2585 1739)"><use href="#c53" x="0"/><use href="#c64" x="5"/></g>
<g transform="translate(2585 1747)"><use href="#c48" x="0"/><use href="#c46" x="5"/></g>
<g transform="translate(2578 1755)"><use href="#c108" x="0"/><use href="#c105" x="5"/><use href="#c115" x="10"/><use href="#c116" x="15"/><use href="#c46" x="20"/></g>
<g transform="translate(2575 1763)"><use href="#c100" x="0"/><use href="#c110" x="5"/><use href="#c115" x="10"/><use href="#c119" x="15"/><use href="#c108" x="20"/><use href="#c46" x="25"/></g>
<g transform="translate(2583 1771)"><use href="#c111" x="0"/><use href="#c114" x="5"/><use href="#c103" x="10"/></g>
<g transform="translate(2575 1779)"><use href="#c50" x="0"/><use href="#c104" x="10"/><use href="#c111" x="15"/><use href="#c112" x="20"/><use href="#c115" x="25"/></g>
<g transform="translate(2608 1739)"><use href="#c51" x="0"/><use href="#c64" x="5"/></g>
<g transform="translate(2608 1747)"><use href="#c89" x="0"/><use href="#c46" x="5"/></g>
<g transform="translate(2601 1755)"><use href="#c108" x="0"/><use href="#c105" x="5"/><use href="#c115" x="10"/><use href="#c116" x="15"/><use href="#c46" x="20"/></g>
<g transform="translate(2598 1763)"><use href="#c100" x="0"/><use href="#c110" x="5"/><use href="#c115" x="10"/><use href="#c119" x="15"/><use href="#c108" x="20"/><use href="#c46" x="25"/></g>
<g transform="translate(2606 1771)"><use href="#c111" x="0"/><use href="#c114" x="5"/><use href="#c103" x="10"/></g>
<g transform="translate(2598 1779)"><use href="#c51" x="0"/><use href="#c104" x="10"/><use href="#c111" x="15"/><use href="#c112" x="20"/><use href="#c115" x="25"/></g>
<g transform="translate(2631 1739)"><use href="#c49" x="0"/><use href="#c64" x="5"/></g>
<g transform="translate(2624 1747)"><use href="#c108" x="0"/><use href="#c105" x="5"/><use href="#c115" x="10"/><use href="#c116" x="15"/><use href="#c46" x="20"/></g>
<g transform="translate(2621 1755)"><use href="#c100" x="0"/><use href="#c110" x="5"/><use href="#c115" x="10"/><use href="#c119" x="15"/><use href="#c108" x="20"/><use href="#c46" x="25"/></g>
<g transform="translate(2629 1763)"><use href="#c111" x="0"/><use href="#c114" x="5"/><use href="#c103" x="10"/></g>
<g transform="translate(2621 1771)"><use href="#c50" x="0"/><use href="#c104" x="10"/><use href="#c111" x="15"/><use href="#c112" x="20"/><use href="#c115" x="25"/></g>
<g transform="translate(2654 1739)"><use href="#c51" x="0"/><use href="#c64" x="5"/></g>
<g transform="translate(2654 1747)"><use href="#c89" x="0"/><use href="#c46" x="5"/></g>
<g transform="translate(2647 1755)"><use href="#c108" x="0"/><use href="#c105" x="5"/><use href="#c115" x="10"/><use href="#c116" x="15"/><use href="#c46" x="20"/></g>
<g transform="translate(2644 1763)"><use href="#c100" x="0"/><use href="#c110" x="5"/><use href="#c115" x="10"/><use href="#c119" x="15"/><use href="#c108" x="20"/><use href="#c46" x="25"/></g>
<g transform="translate(2652 1771)"><use href="#c111" x="0"/><use href="#c114" x="5"/><use href="#c103" x="10"/></g>
<g transform="translate(2644 1779)"><use href="#c50" x="0"/><use href="#c104" x="10"/><use href="#c111" x="15"/><use href="#c112" x="20"/><use href="#c115" x="25"/></g>
<g transform="translate(2675 1739)"><use href="#c49" x="0"/><use href="#c52" x="5"/><use href="#c64" x="10"/></g>
<g transform="translate(2677 1747)"><use href="#c50" x="0"/><use href="#c46" x="5"/></g>
<g transform="translate(2670 1755)"><use href="#c108" x="0"/><use href="#c105" x="5"/><use href="#c115" x="10"/><use href="#c116" x="15"/><use href="#c46" x="20"/></g>
<g transform="translate(2667 1763)"><use href="#c100" x="0"/><use href="#c110" x="5"/><use href="#c115" x="10"/><use href="#c119" x="15"/><use href="#c108" x="20"/><use href="#c46" x="25"/></g>
<g transform="translate(2675 1771)"><use href="#c111" x="0"/><use href="#c114" x="5"/><use href="#c103" x="10"/></g>
<g transform="translate(2667 1779)"><use href="#c50" x="0"/><use href="#c104" x="10"/><use href="#c111" x="15"/><use href="#c112" x="20"/><use href="#c115" x="25"/></g>
<g transform="translate(2699 1739)"><use href="#c51" x="0"/><use href="#c64" x="5"/></g>
<g transform="translate(2699 1747)"><use href="#c48" x="0"/><use href="#c46" x="5"/></g>
<g transform="translate(2692 1755)"><use href="#c108" x="0"/><use href="#c105" x="5"/><use href="#c115" x="10"/><use href="#c116" x="15"/><use href="#c46" x="20"/></g>
<g transform="translate(2689 1763)"><use href="#c100" x="0"/><use href="#c110" x="5"/><use href="#c115" x="10"/><use href="#c119" x="15"/><use href="#c108" x="20"/><use href="#c46" x="25"/></g>
<g transform="translate(2697 1771)"><use href="#c111" x="0"/><use href="#c114" x="5"/><use href="#c103" x="10"/></g>
<g transform="translate(2689 1779)"><use href="#c51" x="0"/><use href="#c104" x="10"/><use href="#c111" x="15"/><use href="#c112" x="20"/><use href="#c115" x="25"/></g>
<g transform="translate(2722 1739)"><use href="#c50" x="0"/><use href="#c64" x="5"/></g>
<g transform="translate(2715 1747)"><use href="#c112" x="0"/><use href="#c115" x="5"/><use href="#c98" x="10"/><use href="#c108" x="15"/><use href="#c46" x="20"/></g>
<g transform="translate(2707 1755)"><use href="#c115" x="0"/><use href="#c117" x="5"/><use href="#c114" x="10"/><use href="#c114" x="15"/><use href="#c105" x="20"/><use href="#c101" x="25"/><use href="#c108" x="30"/><use href="#c46" x="35"/></g>
<g transform="translate(2720 1763)"><use href="#c99" x="0"/><use href="#c111" x="5"/><use href="#c109" x="10"/></g>
<g transform="translate(2712 1771)"><use href="#c51" x="0"/><use href="#c104" x="10"/><use href="#c111" x="15"/><use href="#c112" x="20"/><use href="#c115" x="25"/></g>
<g transform="translate(2745 1739)"><use href="#c48" x="0"/><use href="#c64" x="5"/></g>
<g transform="translate(2738 1747)"><use href="#c108" x="0"/><use href="#c105" x="5"/><use href="#c115" x="10"/><use href="#c116" x="15"/><use href="#c46" x="20"/></g>
<g transform="translate(2735 1755)"><use href="#c100" x="0"/><use href="#c110" x="5"/><use href="#c115" x="10"/><use href="#c119" x="15"/><use href="#c108" x="20"/><use href="#c46" x="25"/></g>
<g transform="translate(2743 1763)"><use href="#c111" x="0"/><use href="#c114" x="5"/><use href="#c103" x="10"/></g>
<g transform="translate(2735 1771)"><use href="#c52" x="0"/><use href="#c104" x="10"/><use href="#c111" x="15"/><use href="#c112" x="20"/><use href="#c115" x="25"/></g>
<g transform="translate(2768 1739)"><use href="#c50" x="0"/><use href="#c64" x="5"/></g>
<g transform="translate(2763 1747)"><use href="#c105" x="0"/><use href="#c112" x="5"/><use href="#c115" x="10"/><use href="#c46" x="15"/></g>
<g transform="translate(2743 1755)"><use href="#c119" x="0"/><use href="#c104" x="5"/><use href="#c105" x="10"/><use href="#c116" x="15"/><use href="#c101" x="20"/><use href="#c108" x="25"/><use href="#c105" x="30"/><use href="#c115" x="35"/><use href="#c116" x="40"/><use href="#c101" x="45"/><use href="#c100" x="50"/><use href="#c46" x="55"/></g>
<g transform="translate(2766 1763)"><use href="#c111" x="0"/><use href="#c114" x="5"/><use href="#c103" x="10"/></g>
<g transform="translate(2758 1771)"><use href="#c51" x="0"/><use href="#c104" x="10"/><use href="#c111" x="15"/><use href="#c112" x="20"/><use href="#c115" x="25"/></g>
<g transform="translate(2789 1739)"><use href="#c49" x="0"/><use href="#c52" x="5"/><use href="#c64" x="10"/></g>
<g transform="translate(2791 1747)"><use href="#c89" x="0"/><use href="#c46" x="5"/></g>
<g transform="translate(2784 1755)"><use href="#c108" x="0"/><use href="#c105" x="5"/><use href="#c115" x="10"/><use href="#c116" x="15"/><use href="#c46" x="20"/></g>
<g transform="translate(2781 1763)"><use href="#c100" x="0"/><use href="#c110" x="5"/><use href="#c115" x="10"/><use href="#c119" x="15"/><use href="#c108" x="20"/><use href="#c46" x="25"/></g>
<g transform="translate(2789 1771)"><use href="#c111" x="0"/><use href="#c114" x="5"/><use href="#c103" x="10"/></g>
<g transform="translate(2781 1779)"><use href="#c50" x="0"/><use href="#c104" x="10"/><use href="#c111" x="15"/><use href="#c112" x="20"/><use href="#c115" x="25"/></g>
<g transform="translate(2814 1739)"><use href="#c57" x="0"/><use href="#c64" x="5"/></g>
<g transform="translate(2814 1747)"><use href="#c51" x="0"/><use href="#c46" x="5"/></g>
<g transform="translate(2807 1755)"><use href="#c108" x="0"/><use href="#c105" x="5"/><use href="#c115" x="10"/><use href="#c116" x="15"/><use href="#c46" x="20"/></g>
<g transform="translate(2804 1763)"><use href="#c100" x="0"/><use href="#c110" x="5"/><use href="#c115" x="10"/><use href="#c119" x="15"/><use href="#c108" x="20"/><use href="#c46" x="25"/></g>
<g transform="translate(2812 1771)"><use href="#c111" x="0"/><use href="#c114" x="5"/><use href="#c103" x="10"/></g>
<g transform="translate(2807 1779)"><use href="#c49" x="0"/><use href="#c104" x="10"/><use href="#c111" x="15"/><use href="#c112" x="20"/></g>
<g transform="translate(2836 1739)"><use href="#c50" x="0"/><use href="#c64" x="5"/></g>
<g transform="translate(2829 1747)"><use href="#c108" x="0"/><use href="#c105" x="5"/><use href="#c115" x="10"/><use href="#c116" x="15"/><use href="#c46" x="20"/></g>
<g transform="translate(2826 1755)"><use href="#c100" x="0"/><use href="#c110" x="5"/><use href="#c115" x="10"/><use href="#c119" x="15"/><use href="#c108" x="20"/><use href="#c46" x="25"/></g>
<g transform="translate(2834 1763)"><use href="#c111" x="0"/><use href="#c114" x="5"/><use href="#c103" x="10"/></g>
<g transform="translate(2829 1771)"><use href="#c49" x="0"/><use href="#c104" x="10"/><use href="#c111" x="15"/><use href="#c112" x="20"/></g>
<g transform="translate(2859 1739)"><use href="#c53" x="0"/><use href="#c64" x="5"/></g>
<g transform="translate(2859 1747)"><use href="#c89" x="0"/><use href="#c46" x="5"/></g>
<g transform="translate(2852 1755)"><use href="#c108" x="0"/><use href="#c105" x="5"/><use href="#c115" x="10"/><use href="#c116" x="15"/><use href="#c46" x="20"/></g>
<g transform="translate(2849 1763)"><use href="#c100" x="0"/><use href="#c110" x="5"/><use href="#c115" x="10"/><use href="#c119" x="15"/><use href="#c108" x="20"/><use href="#c46" x="25"/></g>
<g transform="translate(2857 1771)"><use href="#c111" x="0"/><use href="#c114" x="5"/><use href="#c103" x="10"/></g>
<g transform="translate(2849 1779)"><use href="#c51" x="0"/><use href="#c104" x="10"/><use href="#c111" x="15"/><use href="#c112" x="20"/><use href="#c115" x="25"/></g>
<g transform="translate(2882 1739)"><use href="#c48" x="0"/><use href="#c64" x="5"/></g>
<g transform="translate(2875 1747)"><use href="#c108" x="0"/><use href="#c105" x="5"/><use href="#c115" x="10"/><use href="#c116" x="15"/><use href="#c46" x="20"/></g>
<g transform="translate(2872 1755)"><use href="#c100" x="0"/><use href="#c110" x="5"/><use href="#c115" x="10"/><use href="#c119" x="15"/><use href="#c108" x="20"/><use href="#c46" x="25"/></g>
<g transform="translate(2880 1763)"><use href="#c111" x="0"/><use href="#c114" x="5"/><use href="#c103" x="10"/></g>
<g transform="translate(2872 1771)"><use href="#c51" x="0"/><use href="#c104" x="10"/><use href="#c111" x="15"/><use href="#c112" x="20"/><use href="#c115" x="25"/></g>
<g transform="translate(2905 1739)"><use href="#c57" x="0"/><use href="#c64" x="5"/></g>
<g transform="translate(2905 1747)"><use href="#c50" x="0"/><use href="#c46" x="5"/></g>
<g transform="translate(2898 1755)"><use href="#c108" x="0"/><use href="#c105" x="5"/><use href="#c115" x="10"/><use href="#c116" x="15"/><use href="#c46" x="20"/></g>
<g transform="translate(2895 1763)"><use href="#c100" x="0"/><use href="#c110" x="5"/><use href="#c115" x="10"/><use href="#c119" x="15"/><use href="#c108" x="20"/><use href="#c46" x="25"/></g>
<g transform="translate(2903 1771)"><use href="#c111" x="0"/><use href="#c114" x="5"/><use href="#c103" x="10"/></g>
<g transform="translate(2898 1779)"><use href="#c49" x="0"/><use href="#c104" x="10"/><use href="#c111" x="15"/><use href="#c112" x="20"/></g>
<g transform="translate(2928 1739)"><use href="#c57" x="0"/><use href="#c64" x="5"/></g>
<g transform="translate(2928 1747)"><use href="#c89" x="0"/><use href="#c46" x="5"/></g>
<g transform="translate(2921 1755)"><use href="#c108" x="0"/><use href="#c105" x="5"/><use href="#c115" x="10"/><use href="#c116" x="15"/><use href="#c46" x="20"/></g>
<g transform="translate(2918 1763)"><use href="#c100" x="0"/><use href="#c110" x="5"/><use href="#c115" x="10"/><use href="#c119" x="15"/><use href="#c108" x="20"/><use href="#c46" x="25"/></g>
<g transform="translate(2926 1771)"><use href="#c111" x="0"/><use href="#c114" x="5"/><use href="#c103" x="10"/></g>
<g transform="translate(2921 1779)"><use href="#c49" x="0"/><use href="#c104" x="10"/><use href="#c111" x="15"/><use href="#c112" x="20"/></g>
<g transform="translate(2951 1739)"><use href="#c54" x="0"/><use href="#c64" x="5"/></g>
<g transform="translate(2951 1747)"><use href="#c50" x="0"/><use href="#c46" x="5"/></g>
<g transform="translate(2944 1755)"><use href="#c108" x="0"/><use href="#c105" x="5"/><use href="#c115" x="10"/><use href="#c116" x="15"/><use href="#c46" x="20"/></g>
<g transform="translate(2941 1763)"><use href="#c100" x="0"/><use href="#c110" x="5"/><use href="#c115" x="10"/><use href="#c119" x="15"/><use href="#c108" x="20"/><use href="#c46" x="25"/></g>
<g transform="translate(2949 1771)"><use href="#c111" x="0"/><use href="#c114" x="5"/><use href="#c103" x="10"/></g>
<g transform="translate(2941 1779)"><use href="#c50" x="0"/><use href="#c104" x="10"/><use href="#c111" x="15"/><use href="#c112" x="20"/><use href="#c115" x="25"/></g>
<g transform="translate(2973 1739)"><use href="#c54" x="0"/><use href="#c64" x="5"/></g>
<g transform="translate(2973 1747)"><use href="#c89" x="0"/><use href="#c46" x="5"/></g>
<g transform="translate(2966 1755)"><use href="#c108" x="0"/><use href="#c105" x="5"/><use href="#c115" x="10"/><use href="#c116" x="15"/><use href="#c46" x="20"/></g>
<g transform="translate(2963 1763)"><use href="#c100" x="0"/><use href="#c110" x="5"/><use href="#c115" x="10"/><use href="#c119" x="15"/><use href="#c108" x="20"/><use href="#c46" x="25"/></g>
<g transform="translate(2971 1771)"><use href="#c111" x="0"/><use href="#c114" x="5"/><use href="#c103" x="10"/></g>
<g transform="translate(2963 1779)"><use href="#c50" x="0"/><use href="#c104" x="10"/><use href="#c111" x="15"/><use href="#c112" x="20"/><use href="#c115" x="25"/></g>
<g transform="translate(2996 1739)"><use href="#c53" x="0"/><use href="#c64" x="5"/></g>
<g transform="translate(2996 1747)"><use href="#c48" x="0"/><use href="#c46" x="5"/></g>
<g transform="translate(2989 1755)"><use href="#c108" x="0"/><use href="#c105" x="5"/><use href="#c115" x="10"/><use href="#c116" x="15"/><use href="#c46" x="20"/></g>
<g transform="translate(2986 1763)"><use href="#c100" x="0"/><use href="#c110" x="5"/><use href="#c115" x="10"/><use href="#c119" x="15"/><use href="#c108" x="20"/><use href="#c46" x="25"/></g>
<g transform="translate(2994 1771)"><use href="#c111" x="0"/><use href="#c114" x="5"/><use href="#c103" x="10"/></g>
<g transform="translate(2986 1779)"><use href="#c51" x="0"/><use href="#c104" x="10"/><use href="#c111" x="15"/><use href="#c112" x="20"/><use href="#c115" x="25"/></g>
<g transform="translate(3019 1739)"><use href="#c51" x="0"/><use href="#c64" x="5"/></g>
<g transform="translate(3019 1747)"><use href="#c49" x="0"/><use href="#c46" x="5"/></g>
<g transform="translate(3012 1755)"><use href="#c108" x="0"/><use href="#c105" x="5"/><use href="#c115" x="10"/><use href="#c116" x="15"/><use href="#c46" x="20"/></g>
<g transform="translate(3009 1763)"><use href="#c100" x="0"/><use href="#c110" x="5"/><use href="#c115" x="10"/><use href="#c119" x="15"/><use href="#c108" x="20"/><use href="#c46" x="25"/></g>
<g transform="translate(3017 1771)"><use href="#c111" x="0"/><use href="#c114" x="5"/><use href="#c103" x="10"/></g>
<g transform="translate(3009 1779)"><use href="#c50" x="0"/><use href="#c104" x="10"/><use href="#c111" x="15"/><use href="#c112" x="20"/><use href="#c115" x="25"/></g>
<g transform="translate(3042 1739)"><use href="#c57" x="0"/><use href="#c64" x="5"/></g>
<g transform="translate(3042 1747)"><use href="#c49" x="0"/><use href="#c46" x="5"/></g>
<g transform="translate(3035 1755)"><use href="#c108" x="0"/><use href="#c105" x="5"/><use href="#c115" x="10"/><use href="#c116" x="15"/><use href="#c46" x="20"/></g>
<g transform="translate(3032 1763)"><use href="#c100" x="0"/><use href="#c110" x="5"/><use href="#c115" x="10"/><use href="#c119" x="15"/><use href="#c108" x="20"/><use href="#c46" x="25"/></g>
<g transform="translate(3040 1771)"><use href="#c111" x="0"/><use href="#c114" x="5"/><use href="#c103" x="10"/></g>
<g transform="translate(3032 1779)"><use href="#c50" x="0"/><use href="#c104" x="10"/><use href="#c111" x="15"/><use href="#c112" x="20"/><use href="#c115" x="25"/></g>
<g transform="translate(3065 1739)"><use href="#c57" x="0"/><use href="#c64" x="5"/></g>
<g transform="translate(3065 1747)"><use href="#c48" x="0"/><use href="#c46" x="5"/></g>
<g transform="translate(3058 1755)"><use href="#c108" x="0"/><use href="#c105" x="5"/><use href="#c115" x="10"/><use href="#c116" x="15"/><use href="#c46" x="20"/></g>
<g transform="translate(3055 1763)"><use href="#c100" x="0"/><use href="#c110" x="5"/><use href="#c115" x="10"/><use href="#c119" x="15"/><use href="#c108" x="20"/><use href="#c46" x="25"/></g>
<g transform="translate(3063 1771)"><use href="#c111" x="0"/><use href="#c114" x="5"/><use href="#c103" x="10"/></g>
<g transform="translate(3058 1779)"><use href="#c49" x="0"/><use href="#c104" x="10"/><use href="#c111" x="15"/><use href="#c112" x="20"/></g>
<g transform="translate(3088 1739)"><use href="#c50" x="0"/><use href="#c64" x="5"/></g>
<g transform="translate(3083 1747)"><use href="#c105" x="0"/><use href="#c112" x="5"/><use href="#c115" x="10"/><use href="#c46" x="15"/></g>
<g transform="translate(3058 1755)"><use href="#c98" x="0"/><use href="#c97" x="5"/><use href="#c99" x="10"/><use href="#c107" x="15"/><use href="#c115" x="20"/><use href="#c99" x="25"/><use href="#c97" x="30"/><use href="#c116" x="35"/><use href="#c116" x="40"/><use href="#c101" x="45"/><use href="#c114" x="50"/><use href="#c101" x="55"/><use href="#c114" x="60"/><use href="#c46" x="65"/></g>
<g transform="translate(3086 1763)"><use href="#c111" x="0"/><use href="#c114" x="5"/><use href="#c103" x="10"/></g>
<g transform="translate(3078 1771)"><use href="#c51" x="0"/><use href="#c104" x="10"/><use href="#c111" x="15"/><use href="#c112" x="20"/><use href="#c115" x="25"/></g>
<g transform="translate(3110 1739)"><use href="#c50" x="0"/><use href="#c64" x="5"/></g>
<g transform="translate(3103 1747)"><use href="#c108" x="0"/><use href="#c105" x="5"/><use href="#c115" x="10"/><use href="#c116" x="15"/><use href="#c46" x="20"/></g>
<g transform="translate(3100 1755)"><use href="#c100" x="0"/><use href="#c110" x="5"/><use href="#c115" x="10"/><use href="#c119" x="15"/><use href="#c108" x="20"/><use href="#c46" x="25"/></g>
<g transform="translate(3108 1763)"><use href="#c111" x="0"/><use href="#c114" x="5"/><use href="#c103" x="10"/></g>
<g transform="translate(3100 1771)"><use href="#c50" x="0"/><use href="#c104" x="10"/><use href="#c111" x="15"/><use href="#c112" x="20"/><use href="#c115" x="25"/></g>
<g transform="translate(3133 1739)"><use href="#c51" x="0"/><use href="#c64" x="5"/></g>
<g transform="translate(3133 1747)"><use href="#c89" x="0"/><use href="#c46" x="5"/></g>
<g transform="translate(3126 1755)"><use href="#c108" x="0"/><use href="#c105" x="5"/><use href="#c115" x="10"/><use href="#c116" x="15"/><use href="#c46" x="20"/></g>
<g transform="translate(3123 1763)"><use href="#c100" x="0"/><use href="#c110" x="5"/><use href="#c115" x="10"/><use href="#c119" x="15"/><use href="#c108" x="20"/><use href="#c46" x="25"/></g>
<g transform="translate(3131 1771)"><use href="#c111" x="0"/><use href="#c114" x="5"/><use href="#c103" x="10"/></g>
<g transform="translate(3123 1779)"><use href="#c52" x="0"/><use href="#c104" x="10"/><use href="#c111" x="15"/><use href="#c112" x="20"/><use href="#c115" x="25"/></g>
<g transform="translate(3156 1739)"><use href="#c51" x="0"/><use href="#c64" x="5"/></g>
<g transform="translate(3156 1747)"><use href="#c50" x="0"/><use href="#c46" x="5"/></g>
<g transform="translate(3149 1755)"><use href="#c108" x="0"/><use href="#c105" x="5"/><use href="#c115" x="10"/><use href="#c116" x="15"/><use href="#c46" x="20"/></g>
<g transform="translate(3146 1763)"><use href="#c100" x="0"/><use href="#c110" x="5"/><use href="#c115" x="10"/><use href="#c119" x="15"/><use href="#c108" x="20"/><use href="#c46" x="25"/></g>
<g transform="translate(3154 1771)"><use href="#c111" x="0"/><use href="#c114" x="5"/><use href="#c103" x="10"/></g>
<g transform="translate(3146 1779)"><use href="#c50" x="0"/><use href="#c104" x="10"/><use href="#c111" x="15"/><use href="#c112" x="20"/><use href="#c115" x="25"/></g>
</svg></body></html>
